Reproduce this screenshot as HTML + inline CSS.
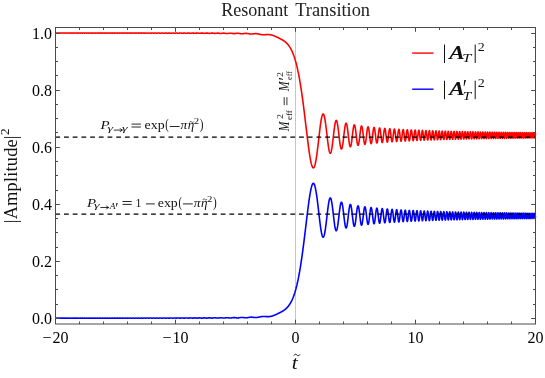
<!DOCTYPE html>
<html><head><meta charset="utf-8"><title>Resonant Transition</title>
<style>
html,body{margin:0;padding:0;background:#fff;}
body{width:545px;height:378px;overflow:hidden;}
svg{display:block;font-family:"Liberation Serif",serif;will-change:transform;transform:translateZ(0);}
.tk line{stroke:#4a4a4a;stroke-width:1;}
.lab text{font-size:16px;fill:#000;}
</style></head><body>
<svg width="545" height="378" viewBox="0 0 545 378">
<rect width="545" height="378" fill="#fff"/>
<line x1="295.5" y1="27.5" x2="295.5" y2="324.0" stroke="#a8a8a8" stroke-width="0.65"/>
<path d="M55.50,33.00 L55.98,33.05 L56.46,33.10 L56.94,33.05 L57.42,33.00 L57.90,33.06 L58.38,33.10 L58.86,33.05 L59.34,33.00 L59.82,33.06 L60.30,33.10 L60.78,33.05 L61.26,33.00 L61.74,33.06 L62.22,33.11 L62.70,33.05 L63.18,33.00 L63.66,33.06 L64.14,33.11 L64.62,33.05 L65.10,33.00 L65.58,33.05 L66.06,33.11 L66.54,33.06 L67.02,33.00 L67.50,33.04 L67.98,33.11 L68.46,33.07 L68.94,33.01 L69.42,33.03 L69.90,33.10 L70.38,33.09 L70.86,33.01 L71.34,33.02 L71.82,33.09 L72.30,33.10 L72.78,33.03 L73.26,33.01 L73.74,33.08 L74.22,33.11 L74.70,33.05 L75.18,33.00 L75.66,33.06 L76.14,33.11 L76.62,33.07 L77.10,33.00 L77.58,33.03 L78.06,33.10 L78.54,33.09 L79.02,33.02 L79.50,33.01 L79.98,33.08 L80.46,33.11 L80.94,33.05 L81.42,33.00 L81.90,33.05 L82.38,33.11 L82.86,33.08 L83.34,33.01 L83.82,33.02 L84.30,33.10 L84.78,33.11 L85.26,33.04 L85.74,33.00 L86.22,33.06 L86.70,33.12 L87.18,33.08 L87.66,33.01 L88.14,33.02 L88.62,33.10 L89.10,33.11 L89.58,33.04 L90.06,33.00 L90.54,33.06 L91.02,33.12 L91.50,33.09 L91.98,33.02 L92.46,33.01 L92.94,33.09 L93.42,33.12 L93.90,33.06 L94.38,33.00 L94.86,33.03 L95.34,33.11 L95.82,33.11 L96.30,33.04 L96.78,33.00 L97.26,33.06 L97.74,33.12 L98.22,33.10 L98.70,33.02 L99.18,33.01 L99.66,33.08 L100.14,33.13 L100.62,33.09 L101.10,33.01 L101.58,33.01 L102.06,33.09 L102.54,33.13 L103.02,33.08 L103.50,33.01 L103.98,33.02 L104.46,33.10 L104.94,33.13 L105.42,33.07 L105.90,33.01 L106.38,33.02 L106.86,33.10 L107.34,33.13 L107.82,33.07 L108.30,33.01 L108.78,33.02 L109.26,33.10 L109.74,33.13 L110.22,33.08 L110.70,33.01 L111.18,33.02 L111.66,33.10 L112.14,33.14 L112.62,33.09 L113.10,33.02 L113.58,33.01 L114.06,33.09 L114.54,33.14 L115.02,33.11 L115.50,33.03 L115.98,33.01 L116.46,33.07 L116.94,33.13 L117.42,33.12 L117.90,33.05 L118.38,33.00 L118.86,33.04 L119.34,33.12 L119.82,33.14 L120.30,33.08 L120.78,33.01 L121.26,33.02 L121.74,33.10 L122.22,33.15 L122.70,33.11 L123.18,33.03 L123.66,33.01 L124.14,33.06 L124.62,33.13 L125.10,33.14 L125.58,33.07 L126.06,33.01 L126.54,33.02 L127.02,33.10 L127.50,33.15 L127.98,33.12 L128.46,33.04 L128.94,33.01 L129.42,33.05 L129.90,33.13 L130.38,33.15 L130.86,33.10 L131.34,33.02 L131.82,33.01 L132.30,33.07 L132.78,33.15 L133.26,33.15 L133.74,33.08 L134.22,33.02 L134.70,33.02 L135.18,33.09 L135.66,33.15 L136.14,33.15 L136.62,33.07 L137.10,33.01 L137.58,33.02 L138.06,33.10 L138.54,33.16 L139.02,33.15 L139.50,33.07 L139.98,33.01 L140.46,33.02 L140.94,33.10 L141.42,33.16 L141.90,33.15 L142.38,33.08 L142.86,33.02 L143.34,33.02 L143.82,33.09 L144.30,33.16 L144.78,33.17 L145.26,33.10 L145.74,33.03 L146.22,33.01 L146.70,33.07 L147.18,33.15 L147.66,33.18 L148.14,33.13 L148.62,33.05 L149.10,33.01 L149.58,33.04 L150.06,33.12 L150.54,33.18 L151.02,33.17 L151.50,33.09 L151.98,33.03 L152.46,33.02 L152.94,33.08 L153.42,33.16 L153.90,33.19 L154.38,33.15 L154.86,33.07 L155.34,33.02 L155.82,33.03 L156.30,33.11 L156.78,33.18 L157.26,33.19 L157.74,33.13 L158.22,33.05 L158.70,33.01 L159.18,33.05 L159.66,33.12 L160.14,33.19 L160.62,33.19 L161.10,33.13 L161.58,33.05 L162.06,33.02 L162.54,33.05 L163.02,33.13 L163.50,33.19 L163.98,33.20 L164.46,33.14 L164.94,33.06 L165.42,33.02 L165.90,33.04 L166.38,33.11 L166.86,33.19 L167.34,33.21 L167.82,33.17 L168.30,33.09 L168.78,33.03 L169.26,33.03 L169.74,33.09 L170.22,33.17 L170.70,33.22 L171.18,33.20 L171.66,33.14 L172.14,33.06 L172.62,33.02 L173.10,33.05 L173.58,33.13 L174.06,33.20 L174.54,33.23 L175.02,33.20 L175.50,33.12 L175.98,33.05 L176.46,33.03 L176.94,33.07 L177.42,33.14 L177.90,33.22 L178.38,33.24 L178.86,33.20 L179.34,33.12 L179.82,33.05 L180.30,33.03 L180.78,33.07 L181.26,33.14 L181.74,33.22 L182.22,33.25 L182.70,33.22 L183.18,33.15 L183.66,33.08 L184.14,33.04 L184.62,33.05 L185.10,33.12 L185.58,33.20 L186.06,33.26 L186.54,33.26 L187.02,33.20 L187.50,33.12 L187.98,33.06 L188.46,33.04 L188.94,33.08 L189.42,33.15 L189.90,33.23 L190.38,33.28 L190.86,33.26 L191.34,33.21 L191.82,33.13 L192.30,33.06 L192.78,33.05 L193.26,33.08 L193.74,33.16 L194.22,33.24 L194.70,33.29 L195.18,33.29 L195.66,33.24 L196.14,33.16 L196.62,33.09 L197.10,33.05 L197.58,33.07 L198.06,33.14 L198.54,33.22 L199.02,33.29 L199.50,33.32 L199.98,33.29 L200.46,33.23 L200.94,33.15 L201.42,33.09 L201.90,33.06 L202.38,33.09 L202.86,33.16 L203.34,33.24 L203.82,33.31 L204.30,33.34 L204.78,33.32 L205.26,33.26 L205.74,33.18 L206.22,33.11 L206.70,33.08 L207.18,33.09 L207.66,33.14 L208.14,33.22 L208.62,33.30 L209.10,33.36 L209.58,33.37 L210.06,33.33 L210.54,33.27 L211.02,33.19 L211.50,33.12 L211.98,33.09 L212.46,33.10 L212.94,33.16 L213.42,33.24 L213.90,33.32 L214.38,33.38 L214.86,33.41 L215.34,33.39 L215.82,33.33 L216.30,33.26 L216.78,33.18 L217.26,33.13 L217.74,33.11 L218.22,33.14 L218.70,33.20 L219.18,33.28 L219.66,33.36 L220.14,33.43 L220.62,33.45 L221.10,33.44 L221.58,33.39 L222.06,33.32 L222.54,33.24 L223.02,33.18 L223.50,33.14 L223.98,33.15 L224.46,33.19 L224.94,33.26 L225.42,33.34 L225.90,33.42 L226.38,33.49 L226.86,33.52 L227.34,33.51 L227.82,33.47 L228.30,33.41 L228.78,33.33 L229.26,33.26 L229.74,33.21 L230.22,33.18 L230.70,33.20 L231.18,33.24 L231.66,33.32 L232.14,33.40 L232.62,33.49 L233.10,33.56 L233.58,33.60 L234.06,33.61 L234.54,33.59 L235.02,33.54 L235.50,33.48 L235.62,33.46 L235.74,33.44 L235.86,33.42 L235.98,33.40 L236.10,33.38 L236.22,33.36 L236.34,33.35 L236.46,33.33 L236.58,33.32 L236.70,33.30 L236.82,33.29 L236.94,33.28 L237.06,33.27 L237.18,33.26 L237.30,33.26 L237.42,33.25 L237.54,33.25 L237.66,33.25 L237.78,33.26 L237.90,33.26 L238.02,33.27 L238.14,33.27 L238.26,33.29 L238.38,33.30 L238.50,33.31 L238.62,33.33 L238.74,33.34 L238.86,33.36 L238.98,33.38 L239.10,33.40 L239.22,33.42 L239.34,33.44 L239.46,33.46 L239.58,33.49 L239.70,33.51 L239.82,33.53 L239.94,33.55 L240.06,33.58 L240.18,33.60 L240.30,33.62 L240.42,33.64 L240.54,33.66 L240.66,33.67 L240.78,33.69 L240.90,33.71 L241.02,33.72 L241.14,33.73 L241.26,33.74 L241.38,33.75 L241.50,33.76 L241.62,33.76 L241.74,33.76 L241.86,33.76 L241.98,33.76 L242.10,33.76 L242.22,33.76 L242.34,33.75 L242.46,33.74 L242.58,33.73 L242.70,33.72 L242.82,33.71 L242.94,33.70 L243.06,33.68 L243.18,33.67 L243.30,33.65 L243.42,33.64 L243.54,33.62 L243.66,33.60 L243.78,33.58 L243.90,33.57 L244.02,33.55 L244.14,33.53 L244.26,33.51 L244.38,33.49 L244.50,33.48 L244.62,33.46 L244.74,33.45 L244.86,33.44 L244.98,33.42 L245.10,33.41 L245.22,33.40 L245.34,33.39 L245.46,33.39 L245.58,33.38 L245.70,33.38 L245.82,33.38 L245.94,33.38 L246.06,33.38 L246.18,33.38 L246.30,33.39 L246.42,33.39 L246.54,33.40 L246.66,33.41 L246.78,33.42 L246.90,33.44 L247.02,33.45 L247.14,33.47 L247.26,33.48 L247.38,33.50 L247.50,33.52 L247.62,33.54 L247.74,33.56 L247.86,33.59 L247.98,33.61 L248.10,33.63 L248.22,33.65 L248.34,33.68 L248.46,33.70 L248.58,33.73 L248.70,33.75 L248.82,33.77 L248.94,33.80 L249.06,33.82 L249.18,33.84 L249.30,33.86 L249.42,33.88 L249.54,33.90 L249.66,33.92 L249.78,33.94 L249.90,33.95 L250.02,33.97 L250.14,33.98 L250.26,34.00 L250.38,34.01 L250.50,34.02 L250.62,34.02 L250.74,34.03 L250.86,34.03 L250.98,34.04 L251.10,34.04 L251.22,34.04 L251.34,34.04 L251.46,34.04 L251.58,34.03 L251.70,34.03 L251.82,34.02 L251.94,34.01 L252.06,34.00 L252.18,33.99 L252.30,33.98 L252.42,33.97 L252.54,33.96 L252.66,33.95 L252.78,33.93 L252.90,33.92 L253.02,33.90 L253.14,33.89 L253.26,33.87 L253.38,33.85 L253.50,33.84 L253.62,33.82 L253.74,33.81 L253.86,33.79 L253.98,33.78 L254.10,33.76 L254.22,33.75 L254.34,33.73 L254.46,33.72 L254.58,33.71 L254.70,33.70 L254.82,33.69 L254.94,33.68 L255.06,33.67 L255.18,33.66 L255.30,33.66 L255.42,33.65 L255.54,33.65 L255.66,33.65 L255.78,33.65 L255.90,33.65 L256.02,33.65 L256.14,33.65 L256.26,33.66 L256.38,33.67 L256.50,33.67 L256.62,33.68 L256.74,33.69 L256.86,33.71 L256.98,33.72 L257.10,33.73 L257.22,33.75 L257.34,33.77 L257.46,33.78 L257.58,33.80 L257.70,33.82 L257.82,33.85 L257.94,33.87 L258.06,33.89 L258.18,33.91 L258.30,33.94 L258.42,33.96 L258.54,33.99 L258.66,34.02 L258.78,34.04 L258.90,34.07 L259.02,34.10 L259.14,34.13 L259.26,34.15 L259.38,34.18 L259.50,34.21 L259.62,34.24 L259.74,34.26 L259.86,34.29 L259.98,34.32 L260.10,34.34 L260.22,34.37 L260.34,34.39 L260.46,34.42 L260.58,34.44 L260.70,34.47 L260.82,34.49 L260.94,34.51 L261.06,34.53 L261.18,34.55 L261.30,34.57 L261.42,34.59 L261.54,34.61 L261.66,34.62 L261.78,34.64 L261.90,34.65 L262.02,34.67 L262.14,34.68 L262.26,34.69 L262.38,34.70 L262.50,34.71 L262.62,34.72 L262.74,34.73 L262.86,34.73 L262.98,34.74 L263.10,34.74 L263.22,34.74 L263.34,34.75 L263.46,34.75 L263.58,34.75 L263.70,34.75 L263.82,34.75 L263.94,34.74 L264.06,34.74 L264.18,34.74 L264.30,34.73 L264.42,34.73 L264.54,34.72 L264.66,34.72 L264.78,34.71 L264.90,34.70 L265.02,34.70 L265.14,34.69 L265.26,34.68 L265.38,34.67 L265.50,34.66 L265.62,34.66 L265.74,34.65 L265.86,34.64 L265.98,34.63 L266.10,34.62 L266.22,34.62 L266.34,34.61 L266.46,34.60 L266.58,34.59 L266.70,34.59 L266.82,34.58 L266.94,34.57 L267.06,34.57 L267.18,34.56 L267.30,34.56 L267.42,34.56 L267.54,34.55 L267.66,34.55 L267.78,34.55 L267.90,34.55 L268.02,34.55 L268.14,34.55 L268.26,34.55 L268.38,34.55 L268.50,34.56 L268.62,34.56 L268.74,34.57 L268.86,34.58 L268.98,34.58 L269.10,34.59 L269.22,34.60 L269.34,34.61 L269.46,34.62 L269.58,34.64 L269.70,34.65 L269.82,34.67 L269.94,34.68 L270.06,34.70 L270.18,34.72 L270.30,34.74 L270.42,34.76 L270.54,34.78 L270.66,34.81 L270.78,34.83 L270.90,34.85 L271.02,34.88 L271.14,34.91 L271.26,34.94 L271.38,34.97 L271.50,35.00 L271.62,35.03 L271.74,35.06 L271.86,35.09 L271.98,35.13 L272.10,35.16 L272.22,35.20 L272.34,35.24 L272.46,35.27 L272.58,35.31 L272.70,35.35 L272.82,35.39 L272.94,35.43 L273.06,35.48 L273.18,35.52 L273.30,35.56 L273.42,35.61 L273.54,35.65 L273.66,35.70 L273.78,35.74 L273.90,35.79 L274.02,35.84 L274.14,35.89 L274.26,35.93 L274.38,35.98 L274.50,36.03 L274.62,36.08 L274.74,36.13 L274.86,36.18 L274.98,36.23 L275.10,36.29 L275.22,36.34 L275.34,36.39 L275.46,36.44 L275.58,36.50 L275.70,36.55 L275.82,36.60 L275.94,36.66 L276.06,36.71 L276.18,36.77 L276.30,36.82 L276.42,36.88 L276.54,36.93 L276.66,36.99 L276.78,37.04 L276.90,37.10 L277.02,37.16 L277.14,37.21 L277.26,37.27 L277.38,37.33 L277.50,37.38 L277.62,37.44 L277.74,37.50 L277.86,37.55 L277.98,37.61 L278.10,37.67 L278.22,37.73 L278.34,37.79 L278.46,37.84 L278.58,37.90 L278.70,37.96 L278.82,38.02 L278.94,38.08 L279.06,38.14 L279.18,38.20 L279.30,38.26 L279.42,38.32 L279.54,38.38 L279.66,38.44 L279.78,38.50 L279.90,38.56 L280.02,38.62 L280.14,38.68 L280.26,38.74 L280.38,38.81 L280.50,38.87 L280.62,38.93 L280.74,39.00 L280.86,39.06 L280.98,39.12 L281.10,39.19 L281.22,39.25 L281.34,39.32 L281.46,39.38 L281.58,39.45 L281.70,39.52 L281.82,39.59 L281.94,39.65 L282.06,39.72 L282.18,39.79 L282.30,39.86 L282.42,39.93 L282.54,40.01 L282.66,40.08 L282.78,40.15 L282.90,40.23 L283.02,40.30 L283.14,40.38 L283.26,40.45 L283.38,40.53 L283.50,40.61 L283.57,40.66 L283.64,40.70 L283.72,40.75 L283.79,40.80 L283.86,40.85 L283.93,40.90 L284.00,40.95 L284.08,41.00 L284.15,41.05 L284.22,41.10 L284.29,41.15 L284.36,41.21 L284.44,41.26 L284.51,41.31 L284.58,41.37 L284.65,41.42 L284.72,41.47 L284.80,41.53 L284.87,41.58 L284.94,41.64 L285.01,41.70 L285.08,41.75 L285.16,41.81 L285.23,41.87 L285.30,41.93 L285.37,41.99 L285.44,42.05 L285.52,42.11 L285.59,42.17 L285.66,42.23 L285.73,42.29 L285.80,42.35 L285.88,42.41 L285.95,42.48 L286.02,42.54 L286.09,42.61 L286.16,42.67 L286.24,42.74 L286.31,42.81 L286.38,42.87 L286.45,42.94 L286.52,43.01 L286.60,43.08 L286.67,43.15 L286.74,43.22 L286.81,43.30 L286.88,43.37 L286.96,43.44 L287.03,43.52 L287.10,43.59 L287.17,43.67 L287.24,43.74 L287.32,43.82 L287.39,43.90 L287.46,43.98 L287.53,44.06 L287.60,44.14 L287.68,44.22 L287.75,44.30 L287.82,44.38 L287.89,44.47 L287.96,44.55 L288.04,44.64 L288.11,44.73 L288.18,44.81 L288.25,44.90 L288.32,44.99 L288.40,45.08 L288.47,45.17 L288.54,45.27 L288.61,45.36 L288.68,45.45 L288.76,45.55 L288.83,45.65 L288.90,45.74 L288.97,45.84 L289.04,45.94 L289.12,46.04 L289.19,46.14 L289.26,46.25 L289.33,46.35 L289.40,46.46 L289.48,46.56 L289.55,46.67 L289.62,46.78 L289.69,46.89 L289.76,47.00 L289.84,47.11 L289.91,47.23 L289.98,47.34 L290.05,47.46 L290.12,47.57 L290.20,47.69 L290.27,47.81 L290.34,47.93 L290.41,48.05 L290.48,48.18 L290.56,48.30 L290.63,48.43 L290.70,48.56 L290.77,48.69 L290.84,48.82 L290.92,48.95 L290.99,49.08 L291.06,49.21 L291.13,49.35 L291.20,49.49 L291.28,49.63 L291.35,49.77 L291.42,49.91 L291.49,50.05 L291.56,50.20 L291.64,50.34 L291.71,50.49 L291.78,50.64 L291.85,50.79 L291.92,50.94 L292.00,51.10 L292.07,51.26 L292.14,51.41 L292.21,51.57 L292.28,51.73 L292.36,51.90 L292.43,52.06 L292.50,52.23 L292.57,52.39 L292.64,52.56 L292.72,52.73 L292.79,52.91 L292.86,53.08 L292.93,53.26 L293.00,53.44 L293.08,53.62 L293.15,53.80 L293.22,53.98 L293.29,54.17 L293.36,54.36 L293.44,54.55 L293.51,54.74 L293.58,54.93 L293.65,55.13 L293.72,55.32 L293.80,55.52 L293.87,55.72 L293.94,55.93 L294.01,56.13 L294.08,56.34 L294.16,56.55 L294.23,56.76 L294.30,56.98 L294.37,57.19 L294.44,57.41 L294.52,57.63 L294.59,57.85 L294.66,58.08 L294.73,58.30 L294.80,58.53 L294.88,58.76 L294.95,59.00 L295.02,59.23 L295.09,59.47 L295.16,59.71 L295.24,59.95 L295.31,60.20 L295.38,60.45 L295.45,60.70 L295.52,60.95 L295.60,61.20 L295.67,61.46 L295.74,61.72 L295.81,61.98 L295.88,62.24 L295.96,62.51 L296.03,62.78 L296.10,63.05 L296.17,63.33 L296.24,63.60 L296.32,63.88 L296.39,64.16 L296.46,64.45 L296.53,64.74 L296.60,65.02 L296.68,65.32 L296.75,65.61 L296.82,65.91 L296.89,66.21 L296.96,66.51 L297.04,66.82 L297.11,67.13 L297.18,67.44 L297.25,67.75 L297.32,68.07 L297.40,68.39 L297.47,68.71 L297.54,69.03 L297.61,69.36 L297.68,69.69 L297.76,70.02 L297.83,70.36 L297.90,70.70 L297.97,71.04 L298.04,71.39 L298.12,71.73 L298.19,72.08 L298.26,72.44 L298.33,72.79 L298.40,73.15 L298.48,73.51 L298.55,73.88 L298.62,74.25 L298.69,74.62 L298.76,74.99 L298.84,75.37 L298.91,75.75 L298.98,76.13 L299.05,76.52 L299.12,76.90 L299.20,77.30 L299.27,77.69 L299.34,78.09 L299.41,78.49 L299.48,78.89 L299.56,79.30 L299.63,79.71 L299.70,80.12 L299.77,80.54 L299.84,80.96 L299.92,81.38 L299.99,81.80 L300.06,82.23 L300.13,82.66 L300.20,83.10 L300.28,83.53 L300.35,83.97 L300.42,84.42 L300.49,84.86 L300.56,85.31 L300.64,85.77 L300.71,86.22 L300.78,86.68 L300.85,87.14 L300.92,87.60 L301.00,88.07 L301.07,88.54 L301.14,89.01 L301.21,89.49 L301.28,89.97 L301.36,90.45 L301.43,90.94 L301.50,91.42 L301.57,91.92 L301.64,92.41 L301.72,92.91 L301.79,93.41 L301.86,93.91 L301.93,94.41 L302.00,94.92 L302.08,95.43 L302.15,95.94 L302.22,96.46 L302.29,96.98 L302.36,97.50 L302.44,98.02 L302.51,98.55 L302.58,99.08 L302.65,99.61 L302.72,100.15 L302.80,100.68 L302.87,101.22 L302.94,101.77 L303.01,102.31 L303.08,102.86 L303.16,103.41 L303.23,103.96 L303.30,104.51 L303.37,105.07 L303.44,105.63 L303.52,106.19 L303.59,106.75 L303.66,107.31 L303.73,107.88 L303.80,108.45 L303.88,109.02 L303.95,109.59 L304.02,110.17 L304.09,110.74 L304.16,111.32 L304.24,111.90 L304.31,112.48 L304.38,113.07 L304.45,113.65 L304.52,114.24 L304.60,114.83 L304.67,115.42 L304.74,116.01 L304.81,116.60 L304.88,117.19 L304.96,117.78 L305.03,118.38 L305.10,118.98 L305.17,119.57 L305.24,120.17 L305.32,120.77 L305.39,121.37 L305.46,121.97 L305.53,122.57 L305.60,123.17 L305.68,123.77 L305.75,124.37 L305.82,124.98 L305.89,125.58 L305.96,126.18 L306.04,126.78 L306.11,127.38 L306.18,127.99 L306.25,128.59 L306.32,129.19 L306.40,129.79 L306.47,130.39 L306.54,130.99 L306.61,131.59 L306.68,132.19 L306.76,132.79 L306.83,133.38 L306.90,133.98 L306.97,134.57 L307.04,135.16 L307.12,135.76 L307.19,136.35 L307.26,136.93 L307.33,137.52 L307.40,138.10 L307.48,138.69 L307.55,139.27 L307.62,139.85 L307.69,140.42 L307.76,141.00 L307.84,141.57 L307.91,142.13 L307.98,142.70 L308.05,143.26 L308.12,143.82 L308.20,144.38 L308.27,144.93 L308.34,145.48 L308.41,146.03 L308.48,146.57 L308.56,147.11 L308.63,147.64 L308.70,148.17 L308.77,148.70 L308.84,149.22 L308.92,149.74 L308.99,150.26 L309.06,150.76 L309.13,151.27 L309.20,151.77 L309.28,152.26 L309.35,152.75 L309.42,153.23 L309.49,153.71 L309.56,154.18 L309.64,154.65 L309.71,155.11 L309.78,155.57 L309.85,156.02 L309.92,156.46 L310.00,156.89 L310.07,157.32 L310.14,157.75 L310.21,158.16 L310.28,158.57 L310.36,158.97 L310.43,159.37 L310.50,159.76 L310.57,160.14 L310.64,160.51 L310.72,160.87 L310.79,161.23 L310.86,161.58 L310.93,161.92 L311.00,162.25 L311.08,162.58 L311.15,162.89 L311.22,163.20 L311.29,163.50 L311.36,163.78 L311.44,164.06 L311.51,164.34 L311.58,164.60 L311.65,164.85 L311.72,165.09 L311.80,165.33 L311.87,165.55 L311.94,165.76 L312.01,165.97 L312.08,166.16 L312.16,166.35 L312.23,166.52 L312.30,166.68 L312.37,166.84 L312.44,166.98 L312.52,167.11 L312.59,167.23 L312.66,167.34 L312.73,167.44 L312.80,167.53 L312.88,167.61 L312.95,167.68 L313.02,167.73 L313.09,167.78 L313.16,167.81 L313.24,167.83 L313.31,167.84 L313.38,167.84 L313.45,167.83 L313.52,167.81 L313.60,167.77 L313.67,167.73 L313.74,167.67 L313.81,167.60 L313.88,167.52 L313.96,167.42 L314.03,167.32 L314.10,167.20 L314.17,167.07 L314.24,166.93 L314.32,166.78 L314.39,166.62 L314.46,166.44 L314.53,166.26 L314.60,166.06 L314.68,165.85 L314.75,165.63 L314.82,165.39 L314.89,165.15 L314.96,164.89 L315.04,164.63 L315.11,164.35 L315.18,164.06 L315.25,163.76 L315.32,163.45 L315.40,163.12 L315.47,162.79 L315.54,162.44 L315.61,162.09 L315.68,161.72 L315.76,161.35 L315.83,160.96 L315.90,160.57 L315.97,160.16 L316.04,159.74 L316.12,159.32 L316.19,158.88 L316.26,158.44 L316.33,157.98 L316.40,157.52 L316.48,157.05 L316.55,156.57 L316.62,156.08 L316.69,155.58 L316.76,155.07 L316.84,154.56 L316.91,154.04 L316.98,153.51 L317.05,152.97 L317.12,152.43 L317.20,151.88 L317.27,151.32 L317.34,150.76 L317.41,150.19 L317.48,149.61 L317.56,149.03 L317.63,148.45 L317.70,147.86 L317.77,147.26 L317.84,146.66 L317.92,146.06 L317.99,145.45 L318.06,144.84 L318.13,144.22 L318.20,143.61 L318.28,142.99 L318.35,142.37 L318.42,141.74 L318.49,141.12 L318.56,140.49 L318.64,139.86 L318.71,139.24 L318.78,138.61 L318.85,137.98 L318.92,137.35 L319.00,136.73 L319.07,136.10 L319.14,135.48 L319.21,134.86 L319.28,134.24 L319.36,133.62 L319.43,133.01 L319.50,132.40 L319.57,131.79 L319.64,131.19 L319.72,130.59 L319.79,130.00 L319.86,129.41 L319.93,128.83 L320.00,128.26 L320.08,127.69 L320.15,127.13 L320.22,126.57 L320.29,126.02 L320.36,125.48 L320.44,124.95 L320.51,124.43 L320.58,123.92 L320.65,123.41 L320.72,122.92 L320.80,122.43 L320.87,121.96 L320.94,121.49 L321.01,121.04 L321.08,120.60 L321.16,120.17 L321.23,119.75 L321.30,119.35 L321.37,118.96 L321.44,118.58 L321.52,118.21 L321.59,117.86 L321.66,117.52 L321.73,117.19 L321.80,116.88 L321.88,116.59 L321.95,116.31 L322.02,116.04 L322.09,115.79 L322.16,115.56 L322.24,115.34 L322.31,115.13 L322.38,114.95 L322.45,114.78 L322.52,114.62 L322.60,114.48 L322.67,114.36 L322.74,114.26 L322.81,114.17 L322.88,114.10 L322.96,114.05 L323.03,114.02 L323.10,114.00 L323.17,114.00 L323.24,114.02 L323.32,114.05 L323.39,114.10 L323.46,114.17 L323.53,114.26 L323.60,114.37 L323.68,114.49 L323.75,114.63 L323.82,114.79 L323.89,114.96 L323.96,115.15 L324.04,115.36 L324.11,115.59 L324.18,115.83 L324.25,116.09 L324.32,116.37 L324.40,116.66 L324.47,116.97 L324.54,117.29 L324.61,117.63 L324.68,117.98 L324.76,118.35 L324.83,118.74 L324.90,119.13 L324.97,119.55 L325.04,119.97 L325.12,120.41 L325.19,120.87 L325.26,121.33 L325.33,121.81 L325.40,122.30 L325.48,122.80 L325.55,123.31 L325.62,123.83 L325.69,124.36 L325.76,124.91 L325.84,125.46 L325.91,126.02 L325.98,126.59 L326.05,127.16 L326.12,127.74 L326.20,128.33 L326.27,128.93 L326.34,129.53 L326.41,130.13 L326.48,130.74 L326.56,131.36 L326.63,131.97 L326.70,132.59 L326.77,133.21 L326.84,133.83 L326.92,134.45 L326.99,135.08 L327.06,135.70 L327.13,136.32 L327.20,136.94 L327.28,137.55 L327.35,138.16 L327.42,138.77 L327.49,139.38 L327.56,139.98 L327.64,140.57 L327.71,141.16 L327.78,141.74 L327.85,142.31 L327.92,142.87 L328.00,143.43 L328.07,143.97 L328.14,144.51 L328.21,145.03 L328.28,145.54 L328.36,146.05 L328.43,146.53 L328.50,147.01 L328.57,147.47 L328.64,147.92 L328.72,148.35 L328.79,148.77 L328.86,149.17 L328.93,149.56 L329.00,149.92 L329.08,150.28 L329.15,150.61 L329.22,150.93 L329.29,151.22 L329.36,151.50 L329.44,151.76 L329.51,152.00 L329.58,152.22 L329.65,152.42 L329.72,152.60 L329.80,152.76 L329.87,152.90 L329.94,153.01 L330.01,153.11 L330.08,153.18 L330.16,153.23 L330.23,153.26 L330.30,153.27 L330.37,153.26 L330.44,153.22 L330.52,153.17 L330.59,153.09 L330.66,152.99 L330.73,152.86 L330.80,152.72 L330.88,152.55 L330.95,152.36 L331.02,152.16 L331.09,151.93 L331.16,151.68 L331.24,151.41 L331.31,151.12 L331.38,150.80 L331.45,150.48 L331.52,150.13 L331.60,149.76 L331.67,149.37 L331.74,148.97 L331.81,148.55 L331.88,148.11 L331.96,147.66 L332.03,147.19 L332.10,146.71 L332.17,146.21 L332.24,145.70 L332.32,145.17 L332.39,144.64 L332.46,144.09 L332.53,143.53 L332.60,142.96 L332.68,142.38 L332.75,141.80 L332.82,141.20 L332.89,140.60 L332.96,139.99 L333.04,139.38 L333.11,138.76 L333.18,138.14 L333.25,137.52 L333.32,136.90 L333.40,136.27 L333.47,135.65 L333.54,135.02 L333.61,134.40 L333.68,133.78 L333.76,133.17 L333.83,132.56 L333.90,131.95 L333.97,131.35 L334.04,130.76 L334.12,130.18 L334.19,129.61 L334.26,129.05 L334.33,128.49 L334.40,127.95 L334.48,127.43 L334.55,126.91 L334.62,126.41 L334.69,125.93 L334.76,125.46 L334.84,125.01 L334.91,124.58 L334.98,124.16 L335.05,123.76 L335.12,123.39 L335.20,123.03 L335.27,122.69 L335.34,122.38 L335.41,122.08 L335.48,121.81 L335.56,121.57 L335.63,121.34 L335.70,121.14 L335.77,120.96 L335.84,120.81 L335.92,120.68 L335.99,120.58 L336.06,120.50 L336.13,120.45 L336.20,120.42 L336.28,120.42 L336.35,120.44 L336.42,120.49 L336.49,120.57 L336.56,120.67 L336.64,120.80 L336.71,120.95 L336.78,121.12 L336.85,121.33 L336.92,121.55 L337.00,121.80 L337.07,122.07 L337.14,122.37 L337.21,122.69 L337.28,123.03 L337.36,123.39 L337.43,123.78 L337.50,124.18 L337.57,124.61 L337.64,125.05 L337.72,125.51 L337.79,125.99 L337.86,126.48 L337.93,126.99 L338.00,127.52 L338.08,128.06 L338.15,128.61 L338.22,129.18 L338.29,129.75 L338.36,130.34 L338.44,130.93 L338.51,131.53 L338.58,132.14 L338.65,132.75 L338.72,133.37 L338.80,133.99 L338.87,134.61 L338.94,135.24 L339.01,135.86 L339.08,136.48 L339.16,137.10 L339.23,137.71 L339.30,138.32 L339.37,138.92 L339.44,139.52 L339.52,140.11 L339.59,140.68 L339.66,141.25 L339.73,141.80 L339.80,142.34 L339.88,142.87 L339.95,143.38 L340.02,143.87 L340.09,144.35 L340.16,144.80 L340.24,145.24 L340.31,145.66 L340.38,146.06 L340.45,146.43 L340.52,146.78 L340.60,147.11 L340.67,147.41 L340.74,147.69 L340.81,147.94 L340.88,148.17 L340.96,148.37 L341.03,148.54 L341.10,148.69 L341.17,148.80 L341.24,148.89 L341.32,148.95 L341.39,148.98 L341.46,148.99 L341.53,148.96 L341.60,148.90 L341.68,148.82 L341.75,148.71 L341.82,148.57 L341.89,148.40 L341.96,148.20 L342.04,147.98 L342.11,147.73 L342.18,147.45 L342.25,147.15 L342.32,146.82 L342.40,146.46 L342.47,146.09 L342.54,145.69 L342.61,145.26 L342.68,144.82 L342.76,144.36 L342.83,143.87 L342.90,143.37 L342.97,142.85 L343.04,142.32 L343.12,141.77 L343.19,141.21 L343.26,140.63 L343.33,140.04 L343.40,139.45 L343.48,138.84 L343.55,138.23 L343.62,137.62 L343.69,137.00 L343.76,136.37 L343.84,135.75 L343.91,135.12 L343.98,134.50 L344.05,133.88 L344.12,133.27 L344.20,132.66 L344.27,132.06 L344.34,131.47 L344.41,130.89 L344.48,130.32 L344.56,129.76 L344.63,129.22 L344.70,128.70 L344.77,128.19 L344.84,127.70 L344.92,127.23 L344.99,126.78 L345.06,126.36 L345.13,125.96 L345.20,125.58 L345.28,125.22 L345.35,124.90 L345.42,124.60 L345.49,124.33 L345.56,124.08 L345.64,123.87 L345.71,123.68 L345.78,123.53 L345.85,123.41 L345.92,123.31 L346.00,123.25 L346.07,123.22 L346.14,123.23 L346.21,123.26 L346.28,123.32 L346.36,123.42 L346.43,123.55 L346.50,123.71 L346.57,123.90 L346.64,124.12 L346.72,124.37 L346.79,124.65 L346.86,124.96 L346.93,125.29 L347.00,125.65 L347.08,126.04 L347.15,126.45 L347.22,126.89 L347.29,127.35 L347.36,127.83 L347.44,128.33 L347.51,128.85 L347.58,129.38 L347.65,129.94 L347.72,130.50 L347.80,131.08 L347.87,131.67 L347.94,132.27 L348.01,132.88 L348.08,133.50 L348.16,134.12 L348.23,134.74 L348.30,135.36 L348.37,135.98 L348.44,136.60 L348.52,137.22 L348.59,137.83 L348.66,138.44 L348.73,139.03 L348.80,139.61 L348.88,140.18 L348.95,140.74 L349.02,141.28 L349.09,141.80 L349.16,142.31 L349.24,142.79 L349.31,143.25 L349.38,143.69 L349.45,144.10 L349.52,144.49 L349.60,144.85 L349.67,145.18 L349.74,145.48 L349.81,145.75 L349.88,146.00 L349.96,146.21 L350.03,146.38 L350.10,146.53 L350.17,146.64 L350.24,146.72 L350.32,146.76 L350.39,146.77 L350.46,146.74 L350.53,146.68 L350.60,146.59 L350.68,146.46 L350.75,146.30 L350.82,146.10 L350.89,145.88 L350.96,145.62 L351.04,145.33 L351.11,145.01 L351.18,144.66 L351.25,144.28 L351.32,143.87 L351.40,143.44 L351.47,142.98 L351.54,142.50 L351.61,142.00 L351.68,141.48 L351.76,140.94 L351.83,140.39 L351.90,139.81 L351.97,139.23 L352.04,138.63 L352.12,138.03 L352.19,137.41 L352.26,136.79 L352.33,136.17 L352.40,135.55 L352.48,134.92 L352.55,134.30 L352.62,133.69 L352.69,133.08 L352.76,132.47 L352.84,131.88 L352.91,131.30 L352.98,130.74 L353.05,130.19 L353.12,129.66 L353.20,129.15 L353.27,128.66 L353.34,128.20 L353.41,127.76 L353.48,127.35 L353.56,126.96 L353.63,126.61 L353.70,126.28 L353.77,125.99 L353.84,125.72 L353.92,125.50 L353.99,125.30 L354.06,125.15 L354.13,125.02 L354.20,124.94 L354.28,124.89 L354.35,124.87 L354.42,124.90 L354.49,124.96 L354.56,125.06 L354.64,125.19 L354.71,125.36 L354.78,125.56 L354.85,125.80 L354.92,126.08 L355.00,126.38 L355.07,126.72 L355.14,127.09 L355.21,127.49 L355.28,127.91 L355.36,128.37 L355.43,128.84 L355.50,129.34 L355.57,129.87 L355.64,130.41 L355.72,130.97 L355.79,131.54 L355.86,132.13 L355.93,132.73 L356.00,133.34 L356.08,133.96 L356.15,134.58 L356.22,135.20 L356.29,135.83 L356.36,136.45 L356.44,137.06 L356.51,137.67 L356.58,138.27 L356.65,138.86 L356.72,139.44 L356.80,140.00 L356.87,140.54 L356.94,141.06 L357.01,141.56 L357.08,142.04 L357.16,142.49 L357.23,142.91 L357.30,143.31 L357.37,143.67 L357.44,144.00 L357.52,144.30 L357.59,144.56 L357.66,144.79 L357.73,144.98 L357.80,145.13 L357.88,145.24 L357.95,145.32 L358.02,145.36 L358.09,145.36 L358.16,145.32 L358.24,145.24 L358.31,145.12 L358.38,144.96 L358.45,144.77 L358.52,144.53 L358.60,144.27 L358.67,143.96 L358.74,143.63 L358.81,143.26 L358.88,142.86 L358.96,142.43 L359.03,141.97 L359.10,141.48 L359.17,140.97 L359.24,140.44 L359.32,139.89 L359.39,139.33 L359.46,138.74 L359.53,138.15 L359.60,137.54 L359.68,136.92 L359.75,136.30 L359.82,135.68 L359.89,135.06 L359.96,134.43 L360.04,133.82 L360.11,133.21 L360.18,132.61 L360.25,132.02 L360.32,131.45 L360.40,130.89 L360.47,130.36 L360.54,129.84 L360.61,129.36 L360.68,128.89 L360.76,128.46 L360.83,128.05 L360.90,127.68 L360.97,127.34 L361.04,127.04 L361.12,126.77 L361.19,126.54 L361.26,126.35 L361.33,126.20 L361.40,126.09 L361.48,126.02 L361.55,125.99 L361.62,126.01 L361.69,126.06 L361.76,126.16 L361.84,126.29 L361.91,126.47 L361.98,126.68 L362.05,126.94 L362.12,127.23 L362.20,127.55 L362.27,127.92 L362.34,128.31 L362.41,128.74 L362.48,129.20 L362.56,129.68 L362.63,130.19 L362.70,130.72 L362.77,131.27 L362.84,131.84 L362.92,132.43 L362.99,133.03 L363.06,133.64 L363.13,134.26 L363.20,134.88 L363.28,135.50 L363.35,136.13 L363.42,136.74 L363.49,137.36 L363.56,137.96 L363.64,138.55 L363.71,139.12 L363.78,139.68 L363.85,140.21 L363.92,140.73 L364.00,141.21 L364.07,141.67 L364.14,142.10 L364.21,142.50 L364.28,142.86 L364.36,143.19 L364.43,143.48 L364.50,143.73 L364.57,143.94 L364.64,144.11 L364.72,144.24 L364.79,144.32 L364.86,144.37 L364.93,144.36 L365.00,144.32 L365.08,144.23 L365.15,144.10 L365.22,143.93 L365.29,143.71 L365.36,143.46 L365.44,143.16 L365.51,142.83 L365.58,142.46 L365.65,142.06 L365.72,141.63 L365.80,141.16 L365.87,140.67 L365.94,140.15 L366.01,139.60 L366.08,139.04 L366.16,138.46 L366.23,137.87 L366.30,137.26 L366.37,136.64 L366.44,136.02 L366.52,135.40 L366.59,134.77 L366.66,134.16 L366.73,133.54 L366.80,132.94 L366.88,132.35 L366.95,131.78 L367.02,131.22 L367.09,130.69 L367.16,130.18 L367.24,129.70 L367.31,129.25 L367.38,128.84 L367.45,128.45 L367.52,128.10 L367.60,127.80 L367.67,127.53 L367.74,127.30 L367.81,127.12 L367.88,126.97 L367.96,126.88 L368.03,126.83 L368.10,126.82 L368.17,126.86 L368.24,126.94 L368.32,127.07 L368.39,127.24 L368.46,127.46 L368.53,127.72 L368.60,128.02 L368.68,128.36 L368.75,128.73 L368.82,129.14 L368.89,129.59 L368.96,130.07 L369.04,130.57 L369.11,131.10 L369.18,131.65 L369.25,132.22 L369.32,132.81 L369.40,133.42 L369.47,134.03 L369.54,134.65 L369.61,135.27 L369.68,135.90 L369.76,136.52 L369.83,137.13 L369.90,137.73 L369.97,138.32 L370.04,138.89 L370.12,139.45 L370.19,139.98 L370.26,140.48 L370.33,140.95 L370.40,141.40 L370.48,141.80 L370.55,142.18 L370.62,142.51 L370.69,142.80 L370.76,143.05 L370.84,143.26 L370.91,143.42 L370.98,143.53 L371.05,143.60 L371.12,143.62 L371.20,143.60 L371.27,143.52 L371.34,143.40 L371.41,143.24 L371.48,143.03 L371.56,142.77 L371.63,142.47 L371.70,142.13 L371.77,141.76 L371.84,141.34 L371.92,140.89 L371.99,140.41 L372.06,139.90 L372.13,139.37 L372.20,138.81 L372.28,138.23 L372.35,137.64 L372.42,137.03 L372.49,136.41 L372.56,135.79 L372.64,135.16 L372.71,134.54 L372.78,133.93 L372.85,133.32 L372.92,132.72 L373.00,132.15 L373.07,131.59 L373.14,131.05 L373.21,130.55 L373.28,130.07 L373.36,129.62 L373.43,129.21 L373.50,128.84 L373.57,128.51 L373.64,128.22 L373.72,127.98 L373.79,127.78 L373.86,127.62 L373.93,127.52 L374.00,127.46 L374.08,127.46 L374.15,127.50 L374.22,127.59 L374.29,127.73 L374.36,127.92 L374.44,128.15 L374.51,128.43 L374.58,128.75 L374.65,129.11 L374.72,129.51 L374.80,129.95 L374.87,130.42 L374.94,130.93 L375.01,131.46 L375.08,132.01 L375.16,132.59 L375.23,133.18 L375.30,133.79 L375.37,134.41 L375.44,135.03 L375.52,135.65 L375.59,136.27 L375.66,136.89 L375.73,137.49 L375.80,138.08 L375.88,138.66 L375.95,139.21 L376.02,139.73 L376.09,140.23 L376.16,140.70 L376.24,141.13 L376.31,141.52 L376.38,141.87 L376.45,142.18 L376.52,142.44 L376.60,142.66 L376.67,142.83 L376.74,142.95 L376.81,143.01 L376.88,143.03 L376.96,143.00 L377.03,142.92 L377.10,142.78 L377.17,142.60 L377.24,142.37 L377.32,142.09 L377.39,141.77 L377.46,141.41 L377.53,141.00 L377.60,140.56 L377.68,140.08 L377.75,139.57 L377.82,139.04 L377.89,138.47 L377.96,137.89 L378.04,137.29 L378.11,136.68 L378.18,136.06 L378.25,135.44 L378.32,134.82 L378.40,134.20 L378.47,133.59 L378.54,132.99 L378.61,132.41 L378.68,131.85 L378.76,131.32 L378.83,130.81 L378.90,130.34 L378.97,129.90 L379.04,129.50 L379.12,129.14 L379.19,128.83 L379.26,128.56 L379.33,128.34 L379.40,128.17 L379.48,128.05 L379.55,127.98 L379.62,127.97 L379.69,128.01 L379.76,128.10 L379.84,128.24 L379.91,128.43 L379.98,128.67 L380.05,128.96 L380.12,129.30 L380.20,129.68 L380.27,130.10 L380.34,130.55 L380.41,131.04 L380.48,131.57 L380.56,132.12 L380.63,132.69 L380.70,133.28 L380.77,133.89 L380.84,134.50 L380.92,135.13 L380.99,135.75 L381.06,136.37 L381.13,136.98 L381.20,137.58 L381.28,138.17 L381.35,138.73 L381.42,139.27 L381.49,139.77 L381.56,140.25 L381.64,140.69 L381.71,141.09 L381.78,141.44 L381.85,141.75 L381.92,142.01 L382.00,142.22 L382.07,142.38 L382.14,142.49 L382.21,142.55 L382.28,142.55 L382.36,142.49 L382.43,142.38 L382.50,142.22 L382.57,142.01 L382.64,141.75 L382.72,141.44 L382.79,141.08 L382.86,140.68 L382.93,140.24 L383.00,139.76 L383.08,139.25 L383.15,138.71 L383.22,138.14 L383.29,137.55 L383.36,136.95 L383.44,136.34 L383.51,135.71 L383.58,135.09 L383.65,134.47 L383.72,133.86 L383.80,133.25 L383.87,132.67 L383.94,132.11 L384.01,131.57 L384.08,131.06 L384.16,130.59 L384.23,130.16 L384.30,129.76 L384.37,129.42 L384.44,129.11 L384.52,128.86 L384.59,128.66 L384.66,128.52 L384.73,128.43 L384.80,128.39 L384.88,128.41 L384.95,128.49 L385.02,128.62 L385.09,128.80 L385.16,129.04 L385.24,129.33 L385.31,129.66 L385.38,130.05 L385.45,130.47 L385.52,130.94 L385.60,131.44 L385.67,131.97 L385.74,132.53 L385.81,133.11 L385.88,133.71 L385.96,134.32 L386.03,134.94 L386.10,135.57 L386.17,136.19 L386.24,136.80 L386.32,137.41 L386.39,137.99 L386.46,138.55 L386.53,139.09 L386.60,139.59 L386.68,140.06 L386.75,140.49 L386.82,140.88 L386.89,141.22 L386.96,141.51 L387.04,141.75 L387.11,141.93 L387.18,142.06 L387.25,142.14 L387.32,142.15 L387.40,142.11 L387.47,142.01 L387.54,141.86 L387.61,141.65 L387.68,141.39 L387.76,141.07 L387.83,140.71 L387.90,140.30 L387.97,139.85 L388.04,139.37 L388.12,138.85 L388.19,138.29 L388.26,137.72 L388.33,137.12 L388.40,136.51 L388.48,135.89 L388.55,135.27 L388.62,134.65 L388.69,134.03 L388.76,133.43 L388.84,132.84 L388.91,132.28 L388.98,131.74 L389.05,131.24 L389.12,130.77 L389.20,130.34 L389.27,129.96 L389.34,129.62 L389.41,129.34 L389.48,129.11 L389.56,128.93 L389.63,128.82 L389.70,128.76 L389.77,128.76 L389.84,128.81 L389.92,128.93 L389.99,129.10 L390.06,129.33 L390.13,129.61 L390.20,129.95 L390.28,130.33 L390.35,130.76 L390.42,131.23 L390.49,131.73 L390.56,132.27 L390.64,132.84 L390.71,133.43 L390.78,134.03 L390.85,134.65 L390.92,135.27 L391.00,135.89 L391.07,136.51 L391.14,137.12 L391.21,137.71 L391.28,138.28 L391.36,138.82 L391.43,139.33 L391.50,139.80 L391.57,140.23 L391.64,140.62 L391.72,140.95 L391.79,141.24 L391.86,141.47 L391.93,141.64 L392.00,141.75 L392.08,141.81 L392.15,141.80 L392.22,141.73 L392.29,141.61 L392.36,141.42 L392.44,141.18 L392.51,140.89 L392.58,140.54 L392.65,140.14 L392.72,139.70 L392.80,139.22 L392.87,138.70 L392.94,138.15 L393.01,137.58 L393.08,136.98 L393.16,136.37 L393.23,135.75 L393.30,135.12 L393.37,134.50 L393.44,133.89 L393.52,133.29 L393.59,132.72 L393.66,132.16 L393.73,131.64 L393.80,131.16 L393.88,130.72 L393.95,130.32 L394.02,129.97 L394.09,129.67 L394.16,129.43 L394.24,129.25 L394.31,129.13 L394.38,129.06 L394.45,129.06 L394.52,129.13 L394.60,129.25 L394.67,129.43 L394.74,129.67 L394.81,129.97 L394.88,130.32 L394.96,130.72 L395.03,131.16 L395.10,131.65 L395.17,132.17 L395.24,132.72 L395.32,133.30 L395.39,133.90 L395.46,134.52 L395.53,135.14 L395.60,135.76 L395.68,136.38 L395.75,136.99 L395.82,137.58 L395.89,138.15 L395.96,138.69 L396.04,139.20 L396.11,139.66 L396.18,140.09 L396.25,140.46 L396.32,140.78 L396.40,141.05 L396.47,141.26 L396.54,141.41 L396.61,141.49 L396.68,141.52 L396.76,141.48 L396.83,141.37 L396.90,141.21 L396.97,140.99 L397.04,140.70 L397.12,140.37 L397.19,139.98 L397.26,139.54 L397.33,139.06 L397.40,138.54 L397.48,137.99 L397.55,137.42 L397.62,136.82 L397.69,136.20 L397.76,135.58 L397.84,134.96 L397.91,134.34 L397.98,133.73 L398.05,133.14 L398.12,132.57 L398.20,132.04 L398.27,131.54 L398.34,131.07 L398.41,130.66 L398.48,130.29 L398.56,129.98 L398.63,129.73 L398.70,129.53 L398.77,129.40 L398.84,129.33 L398.92,129.33 L398.99,129.39 L399.06,129.52 L399.13,129.70 L399.20,129.95 L399.28,130.26 L399.35,130.62 L399.42,131.03 L399.49,131.49 L399.56,131.99 L399.64,132.52 L399.71,133.09 L399.78,133.68 L399.85,134.28 L399.92,134.90 L400.00,135.53 L400.07,136.15 L400.14,136.76 L400.21,137.36 L400.28,137.93 L400.36,138.48 L400.43,138.99 L400.50,139.46 L400.57,139.88 L400.64,140.26 L400.72,140.58 L400.79,140.84 L400.86,141.04 L400.93,141.18 L401.00,141.25 L401.08,141.25 L401.15,141.20 L401.22,141.07 L401.29,140.88 L401.36,140.63 L401.44,140.32 L401.51,139.96 L401.58,139.54 L401.65,139.08 L401.72,138.57 L401.80,138.03 L401.87,137.46 L401.94,136.87 L402.01,136.26 L402.08,135.64 L402.16,135.01 L402.23,134.39 L402.30,133.78 L402.37,133.19 L402.44,132.63 L402.52,132.10 L402.59,131.60 L402.66,131.15 L402.73,130.75 L402.80,130.39 L402.88,130.10 L402.95,129.87 L403.02,129.70 L403.09,129.60 L403.16,129.56 L403.24,129.59 L403.31,129.69 L403.38,129.85 L403.45,130.08 L403.52,130.37 L403.60,130.71 L403.67,131.11 L403.74,131.56 L403.81,132.06 L403.88,132.59 L403.96,133.15 L404.03,133.74 L404.10,134.35 L404.17,134.97 L404.24,135.60 L404.32,136.22 L404.39,136.83 L404.46,137.42 L404.53,137.98 L404.60,138.52 L404.68,139.02 L404.75,139.47 L404.82,139.87 L404.89,140.22 L404.96,140.51 L405.04,140.74 L405.11,140.91 L405.18,141.00 L405.25,141.03 L405.32,140.99 L405.40,140.88 L405.47,140.71 L405.54,140.47 L405.61,140.17 L405.68,139.81 L405.76,139.39 L405.83,138.93 L405.90,138.43 L405.97,137.88 L406.04,137.31 L406.12,136.71 L406.19,136.10 L406.26,135.48 L406.33,134.85 L406.40,134.24 L406.48,133.63 L406.55,133.05 L406.62,132.50 L406.69,131.98 L406.76,131.51 L406.84,131.08 L406.91,130.71 L406.98,130.39 L407.05,130.14 L407.12,129.95 L407.20,129.83 L407.27,129.77 L407.34,129.79 L407.41,129.88 L407.48,130.03 L407.56,130.25 L407.63,130.54 L407.70,130.88 L407.77,131.29 L407.84,131.74 L407.92,132.24 L407.99,132.77 L408.06,133.34 L408.13,133.94 L408.20,134.55 L408.28,135.17 L408.35,135.79 L408.42,136.41 L408.49,137.01 L408.56,137.60 L408.64,138.15 L408.71,138.67 L408.78,139.14 L408.85,139.56 L408.92,139.93 L409.00,140.24 L409.07,140.49 L409.14,140.67 L409.21,140.79 L409.28,140.83 L409.36,140.80 L409.43,140.70 L409.50,140.53 L409.57,140.29 L409.64,139.99 L409.72,139.63 L409.79,139.21 L409.86,138.75 L409.93,138.23 L410.00,137.69 L410.08,137.11 L410.15,136.51 L410.22,135.89 L410.29,135.27 L410.36,134.64 L410.44,134.03 L410.51,133.44 L410.58,132.87 L410.65,132.33 L410.72,131.84 L410.80,131.39 L410.87,130.99 L410.94,130.66 L411.01,130.38 L411.08,130.17 L411.16,130.03 L411.23,129.97 L411.30,129.97 L411.37,130.05 L411.44,130.20 L411.52,130.41 L411.59,130.69 L411.66,131.04 L411.73,131.44 L411.80,131.90 L411.88,132.40 L411.95,132.94 L412.02,133.52 L412.09,134.12 L412.16,134.73 L412.24,135.35 L412.31,135.98 L412.38,136.59 L412.45,137.19 L412.52,137.76 L412.60,138.29 L412.67,138.79 L412.74,139.24 L412.81,139.63 L412.88,139.97 L412.96,140.24 L413.03,140.45 L413.10,140.58 L413.17,140.64 L413.24,140.63 L413.32,140.54 L413.39,140.38 L413.46,140.16 L413.53,139.86 L413.60,139.50 L413.68,139.09 L413.75,138.62 L413.82,138.11 L413.89,137.56 L413.96,136.98 L414.04,136.37 L414.11,135.75 L414.18,135.13 L414.25,134.51 L414.32,133.90 L414.40,133.31 L414.47,132.76 L414.54,132.23 L414.61,131.76 L414.68,131.33 L414.76,130.96 L414.83,130.66 L414.90,130.42 L414.97,130.25 L415.04,130.15 L415.12,130.13 L415.19,130.18 L415.26,130.31 L415.33,130.51 L415.40,130.78 L415.48,131.11 L415.55,131.51 L415.62,131.96 L415.69,132.45 L415.76,132.99 L415.84,133.57 L415.91,134.17 L415.98,134.78 L416.05,135.40 L416.12,136.03 L416.20,136.64 L416.27,137.23 L416.34,137.79 L416.41,138.32 L416.48,138.81 L416.56,139.24 L416.63,139.62 L416.70,139.93 L416.77,140.18 L416.84,140.35 L416.92,140.45 L416.99,140.48 L417.06,140.43 L417.13,140.30 L417.20,140.10 L417.28,139.83 L417.35,139.50 L417.42,139.10 L417.49,138.65 L417.56,138.15 L417.64,137.60 L417.71,137.03 L417.78,136.43 L417.85,135.81 L417.92,135.18 L418.00,134.56 L418.07,133.96 L418.14,133.37 L418.21,132.81 L418.28,132.29 L418.36,131.82 L418.43,131.40 L418.50,131.04 L418.57,130.75 L418.64,130.52 L418.72,130.37 L418.79,130.29 L418.86,130.30 L418.93,130.37 L419.00,130.53 L419.08,130.75 L419.15,131.05 L419.22,131.41 L419.29,131.84 L419.36,132.31 L419.44,132.83 L419.51,133.39 L419.58,133.98 L419.65,134.59 L419.72,135.22 L419.80,135.84 L419.87,136.45 L419.94,137.05 L420.01,137.62 L420.08,138.16 L420.16,138.65 L420.23,139.09 L420.30,139.47 L420.37,139.79 L420.44,140.03 L420.52,140.21 L420.59,140.30 L420.66,140.32 L420.73,140.26 L420.80,140.13 L420.88,139.92 L420.95,139.64 L421.02,139.29 L421.09,138.88 L421.16,138.41 L421.24,137.89 L421.31,137.34 L421.38,136.75 L421.45,136.14 L421.52,135.52 L421.60,134.90 L421.67,134.28 L421.74,133.68 L421.81,133.11 L421.88,132.58 L421.96,132.08 L422.03,131.64 L422.10,131.26 L422.17,130.95 L422.24,130.71 L422.32,130.54 L422.39,130.45 L422.46,130.43 L422.53,130.50 L422.60,130.64 L422.68,130.86 L422.75,131.15 L422.82,131.51 L422.89,131.94 L422.96,132.41 L423.04,132.94 L423.11,133.50 L423.18,134.09 L423.25,134.70 L423.32,135.33 L423.40,135.95 L423.47,136.56 L423.54,137.15 L423.61,137.71 L423.68,138.24 L423.76,138.71 L423.83,139.13 L423.90,139.49 L423.97,139.77 L424.04,139.99 L424.12,140.13 L424.19,140.18 L424.26,140.16 L424.33,140.06 L424.40,139.88 L424.48,139.62 L424.55,139.30 L424.62,138.91 L424.69,138.45 L424.76,137.95 L424.84,137.40 L424.91,136.82 L424.98,136.22 L425.05,135.60 L425.12,134.98 L425.20,134.36 L425.27,133.76 L425.34,133.18 L425.41,132.65 L425.48,132.16 L425.56,131.72 L425.63,131.34 L425.70,131.04 L425.77,130.80 L425.84,130.64 L425.92,130.57 L425.99,130.57 L426.06,130.66 L426.13,130.82 L426.20,131.06 L426.28,131.38 L426.35,131.76 L426.42,132.20 L426.49,132.70 L426.56,133.24 L426.64,133.82 L426.71,134.42 L426.78,135.04 L426.85,135.66 L426.92,136.28 L427.00,136.88 L427.07,137.46 L427.14,137.99 L427.21,138.48 L427.28,138.92 L427.36,139.29 L427.43,139.60 L427.50,139.83 L427.57,139.98 L427.64,140.05 L427.72,140.04 L427.79,139.95 L427.86,139.77 L427.93,139.52 L428.00,139.20 L428.08,138.81 L428.15,138.35 L428.22,137.85 L428.29,137.30 L428.36,136.72 L428.44,136.11 L428.51,135.49 L428.58,134.86 L428.65,134.25 L428.72,133.65 L428.80,133.09 L428.87,132.57 L428.94,132.09 L429.01,131.67 L429.08,131.32 L429.16,131.04 L429.23,130.84 L429.30,130.72 L429.37,130.68 L429.44,130.72 L429.52,130.85 L429.59,131.06 L429.66,131.34 L429.73,131.70 L429.80,132.12 L429.88,132.60 L429.95,133.13 L430.02,133.69 L430.09,134.29 L430.16,134.91 L430.24,135.53 L430.31,136.15 L430.38,136.76 L430.45,137.33 L430.52,137.88 L430.60,138.37 L430.67,138.81 L430.74,139.19 L430.81,139.49 L430.88,139.72 L430.96,139.87 L431.03,139.94 L431.10,139.92 L431.17,139.81 L431.24,139.63 L431.32,139.37 L431.39,139.03 L431.46,138.62 L431.53,138.15 L431.60,137.64 L431.68,137.08 L431.75,136.48 L431.82,135.87 L431.89,135.25 L431.96,134.63 L432.04,134.02 L432.11,133.44 L432.18,132.89 L432.25,132.39 L432.32,131.94 L432.40,131.56 L432.47,131.25 L432.54,131.02 L432.61,130.86 L432.68,130.80 L432.76,130.81 L432.83,130.91 L432.90,131.10 L432.97,131.37 L433.04,131.71 L433.12,132.11 L433.19,132.58 L433.26,133.10 L433.33,133.67 L433.40,134.26 L433.48,134.88 L433.55,135.50 L433.62,136.12 L433.69,136.73 L433.76,137.30 L433.84,137.84 L433.91,138.33 L433.98,138.77 L434.05,139.14 L434.12,139.43 L434.20,139.65 L434.27,139.78 L434.34,139.83 L434.41,139.79 L434.48,139.67 L434.56,139.46 L434.63,139.17 L434.70,138.81 L434.77,138.38 L434.84,137.89 L434.92,137.35 L434.99,136.78 L435.06,136.18 L435.13,135.56 L435.20,134.93 L435.28,134.32 L435.35,133.72 L435.42,133.16 L435.49,132.64 L435.56,132.17 L435.64,131.77 L435.71,131.43 L435.78,131.17 L435.85,131.00 L435.92,130.91 L436.00,130.91 L436.07,130.99 L436.14,131.16 L436.21,131.41 L436.28,131.74 L436.36,132.14 L436.43,132.61 L436.50,133.13 L436.57,133.69 L436.64,134.28 L436.72,134.90 L436.79,135.52 L436.86,136.14 L436.93,136.74 L437.00,137.32 L437.08,137.85 L437.15,138.34 L437.22,138.76 L437.29,139.11 L437.36,139.39 L437.44,139.59 L437.51,139.70 L437.58,139.72 L437.65,139.66 L437.72,139.51 L437.80,139.27 L437.87,138.95 L437.94,138.56 L438.01,138.11 L438.08,137.60 L438.16,137.04 L438.23,136.45 L438.30,135.84 L438.37,135.22 L438.44,134.59 L438.52,133.99 L438.59,133.41 L438.66,132.88 L438.73,132.39 L438.80,131.96 L438.88,131.61 L438.95,131.33 L439.02,131.13 L439.09,131.02 L439.16,131.00 L439.24,131.06 L439.31,131.22 L439.38,131.46 L439.45,131.78 L439.52,132.18 L439.60,132.64 L439.67,133.15 L439.74,133.71 L439.81,134.30 L439.88,134.92 L439.96,135.54 L440.03,136.16 L440.10,136.76 L440.17,137.33 L440.24,137.86 L440.32,138.34 L440.39,138.75 L440.46,139.09 L440.53,139.35 L440.60,139.53 L440.68,139.62 L440.75,139.62 L440.82,139.53 L440.89,139.35 L440.96,139.08 L441.04,138.74 L441.11,138.32 L441.18,137.84 L441.25,137.31 L441.32,136.74 L441.40,136.14 L441.47,135.52 L441.54,134.89 L441.61,134.28 L441.68,133.69 L441.76,133.13 L441.83,132.63 L441.90,132.18 L441.97,131.79 L442.04,131.49 L442.12,131.26 L442.19,131.13 L442.26,131.08 L442.33,131.13 L442.40,131.27 L442.48,131.49 L442.55,131.80 L442.62,132.18 L442.69,132.63 L442.76,133.14 L442.84,133.70 L442.91,134.29 L442.98,134.91 L443.05,135.53 L443.12,136.15 L443.20,136.75 L443.27,137.32 L443.34,137.85 L443.41,138.32 L443.48,138.72 L443.56,139.05 L443.63,139.30 L443.70,139.47 L443.77,139.54 L443.84,139.52 L443.92,139.40 L443.99,139.20 L444.06,138.91 L444.13,138.55 L444.20,138.11 L444.28,137.61 L444.35,137.07 L444.42,136.48 L444.49,135.87 L444.56,135.25 L444.64,134.63 L444.71,134.02 L444.78,133.45 L444.85,132.91 L444.92,132.44 L445.00,132.02 L445.07,131.68 L445.14,131.42 L445.21,131.25 L445.28,131.18 L445.36,131.19 L445.43,131.30 L445.50,131.50 L445.57,131.78 L445.64,132.14 L445.72,132.58 L445.79,133.08 L445.86,133.62 L445.93,134.21 L446.00,134.82 L446.08,135.45 L446.15,136.07 L446.22,136.67 L446.29,137.24 L446.36,137.77 L446.44,138.24 L446.51,138.65 L446.58,138.98 L446.65,139.23 L446.72,139.39 L446.80,139.45 L446.87,139.43 L446.94,139.30 L447.01,139.09 L447.08,138.79 L447.16,138.41 L447.23,137.97 L447.30,137.46 L447.37,136.90 L447.44,136.31 L447.52,135.69 L447.59,135.07 L447.66,134.45 L447.73,133.85 L447.80,133.29 L447.88,132.78 L447.95,132.32 L448.02,131.94 L448.09,131.63 L448.16,131.41 L448.24,131.29 L448.31,131.25 L448.38,131.31 L448.45,131.47 L448.52,131.71 L448.60,132.04 L448.67,132.45 L448.74,132.92 L448.81,133.46 L448.88,134.03 L448.96,134.63 L449.03,135.26 L449.10,135.88 L449.17,136.49 L449.24,137.07 L449.32,137.61 L449.39,138.10 L449.46,138.52 L449.53,138.86 L449.60,139.12 L449.68,139.29 L449.75,139.37 L449.82,139.35 L449.89,139.24 L449.96,139.03 L450.04,138.74 L450.11,138.36 L450.18,137.91 L450.25,137.40 L450.32,136.84 L450.40,136.25 L450.47,135.63 L450.54,135.01 L450.61,134.39 L450.68,133.80 L450.76,133.24 L450.83,132.74 L450.90,132.30 L450.97,131.93 L451.04,131.64 L451.12,131.45 L451.19,131.34 L451.26,131.34 L451.33,131.43 L451.40,131.61 L451.48,131.89 L451.55,132.25 L451.62,132.68 L451.69,133.18 L451.76,133.73 L451.84,134.32 L451.91,134.93 L451.98,135.55 L452.05,136.17 L452.12,136.77 L452.20,137.33 L452.27,137.84 L452.34,138.29 L452.41,138.67 L452.48,138.96 L452.56,139.17 L452.63,139.28 L452.70,139.29 L452.77,139.21 L452.84,139.03 L452.92,138.76 L452.99,138.40 L453.06,137.97 L453.13,137.47 L453.20,136.92 L453.28,136.33 L453.35,135.72 L453.42,135.10 L453.49,134.48 L453.56,133.88 L453.64,133.32 L453.71,132.82 L453.78,132.37 L453.85,132.00 L453.92,131.71 L454.00,131.51 L454.07,131.41 L454.14,131.41 L454.21,131.51 L454.28,131.70 L454.36,131.98 L454.43,132.35 L454.50,132.79 L454.57,133.30 L454.64,133.86 L454.72,134.45 L454.79,135.07 L454.86,135.69 L454.93,136.31 L455.00,136.89 L455.08,137.44 L455.15,137.94 L455.22,138.37 L455.29,138.72 L455.36,138.98 L455.44,139.15 L455.51,139.23 L455.58,139.20 L455.65,139.08 L455.72,138.85 L455.80,138.54 L455.87,138.15 L455.94,137.68 L456.01,137.16 L456.08,136.59 L456.16,135.98 L456.23,135.36 L456.30,134.74 L456.37,134.13 L456.44,133.56 L456.52,133.03 L456.59,132.56 L456.66,132.16 L456.73,131.85 L456.80,131.62 L456.88,131.50 L456.95,131.47 L457.02,131.54 L457.09,131.71 L457.16,131.98 L457.24,132.33 L457.31,132.76 L457.38,133.26 L457.45,133.81 L457.52,134.40 L457.60,135.02 L457.67,135.64 L457.74,136.26 L457.81,136.85 L457.88,137.40 L457.96,137.89 L458.03,138.32 L458.10,138.67 L458.17,138.93 L458.24,139.10 L458.32,139.16 L458.39,139.13 L458.46,138.99 L458.53,138.76 L458.60,138.43 L458.68,138.02 L458.75,137.55 L458.82,137.01 L458.89,136.43 L458.96,135.82 L459.04,135.20 L459.11,134.58 L459.18,133.98 L459.25,133.42 L459.32,132.91 L459.40,132.46 L459.47,132.09 L459.54,131.81 L459.61,131.62 L459.68,131.54 L459.76,131.55 L459.83,131.67 L459.90,131.89 L459.97,132.19 L460.04,132.59 L460.12,133.05 L460.19,133.58 L460.26,134.16 L460.33,134.77 L460.40,135.39 L460.48,136.01 L460.55,136.61 L460.62,137.18 L460.69,137.69 L460.76,138.14 L460.84,138.52 L460.91,138.81 L460.98,139.00 L461.05,139.09 L461.12,139.08 L461.20,138.97 L461.27,138.75 L461.34,138.45 L461.41,138.05 L461.48,137.59 L461.56,137.06 L461.63,136.48 L461.70,135.87 L461.77,135.25 L461.84,134.63 L461.92,134.03 L461.99,133.47 L462.06,132.96 L462.13,132.51 L462.20,132.14 L462.28,131.86 L462.35,131.68 L462.42,131.60 L462.49,131.62 L462.56,131.75 L462.64,131.97 L462.71,132.29 L462.78,132.69 L462.85,133.17 L462.92,133.71 L463.00,134.29 L463.07,134.90 L463.14,135.53 L463.21,136.14 L463.28,136.74 L463.36,137.29 L463.43,137.79 L463.50,138.22 L463.57,138.57 L463.64,138.82 L463.72,138.98 L463.79,139.04 L463.86,138.99 L463.93,138.83 L464.00,138.58 L464.08,138.23 L464.15,137.81 L464.22,137.31 L464.29,136.76 L464.36,136.16 L464.44,135.55 L464.51,134.92 L464.58,134.31 L464.65,133.73 L464.72,133.19 L464.80,132.72 L464.87,132.32 L464.94,132.01 L465.01,131.79 L465.08,131.67 L465.16,131.66 L465.23,131.75 L465.30,131.95 L465.37,132.24 L465.44,132.63 L465.52,133.09 L465.59,133.61 L465.66,134.19 L465.73,134.79 L465.80,135.42 L465.88,136.04 L465.95,136.63 L466.02,137.20 L466.09,137.70 L466.16,138.14 L466.24,138.49 L466.31,138.76 L466.38,138.92 L466.45,138.98 L466.52,138.93 L466.60,138.78 L466.67,138.52 L466.74,138.18 L466.81,137.75 L466.88,137.25 L466.96,136.69 L467.03,136.09 L467.10,135.47 L467.17,134.85 L467.24,134.24 L467.32,133.67 L467.39,133.14 L467.46,132.68 L467.53,132.29 L467.60,132.00 L467.68,131.81 L467.75,131.71 L467.82,131.73 L467.89,131.85 L467.96,132.08 L468.04,132.40 L468.11,132.81 L468.18,133.29 L468.25,133.84 L468.32,134.43 L468.40,135.04 L468.47,135.67 L468.54,136.28 L468.61,136.86 L468.68,137.40 L468.76,137.88 L468.83,138.28 L468.90,138.59 L468.97,138.80 L469.04,138.91 L469.12,138.91 L469.19,138.80 L469.26,138.59 L469.33,138.28 L469.40,137.88 L469.48,137.41 L469.55,136.87 L469.62,136.29 L469.69,135.67 L469.76,135.05 L469.84,134.44 L469.91,133.85 L469.98,133.31 L470.05,132.83 L470.12,132.42 L470.20,132.11 L470.27,131.89 L470.34,131.78 L470.41,131.77 L470.48,131.88 L470.56,132.09 L470.63,132.40 L470.70,132.80 L470.77,133.27 L470.84,133.81 L470.92,134.40 L470.99,135.01 L471.06,135.63 L471.13,136.25 L471.20,136.83 L471.28,137.37 L471.35,137.85 L471.42,138.24 L471.49,138.55 L471.56,138.76 L471.64,138.86 L471.71,138.85 L471.78,138.73 L471.85,138.51 L471.92,138.19 L472.00,137.78 L472.07,137.29 L472.14,136.75 L472.21,136.16 L472.28,135.54 L472.36,134.92 L472.43,134.31 L472.50,133.73 L472.57,133.20 L472.64,132.74 L472.72,132.36 L472.79,132.07 L472.86,131.89 L472.93,131.81 L473.00,131.85 L473.08,131.99 L473.15,132.24 L473.22,132.59 L473.29,133.02 L473.36,133.52 L473.44,134.08 L473.51,134.69 L473.58,135.31 L473.65,135.93 L473.72,136.53 L473.80,137.09 L473.87,137.60 L473.94,138.03 L474.01,138.38 L474.08,138.63 L474.16,138.78 L474.23,138.82 L474.30,138.74 L474.37,138.56 L474.44,138.27 L474.52,137.89 L474.59,137.43 L474.66,136.90 L474.73,136.32 L474.80,135.71 L474.88,135.08 L474.95,134.47 L475.02,133.88 L475.09,133.34 L475.16,132.86 L475.24,132.47 L475.31,132.16 L475.38,131.96 L475.45,131.87 L475.52,131.89 L475.60,132.02 L475.67,132.25 L475.74,132.59 L475.81,133.01 L475.88,133.51 L475.96,134.07 L476.03,134.67 L476.10,135.29 L476.17,135.91 L476.24,136.51 L476.32,137.08 L476.39,137.58 L476.46,138.01 L476.53,138.36 L476.60,138.60 L476.68,138.74 L476.75,138.77 L476.82,138.68 L476.89,138.48 L476.96,138.18 L477.04,137.79 L477.11,137.31 L477.18,136.77 L477.25,136.18 L477.32,135.57 L477.40,134.95 L477.47,134.34 L477.54,133.76 L477.61,133.23 L477.68,132.78 L477.76,132.41 L477.83,132.13 L477.90,131.96 L477.97,131.91 L478.04,131.97 L478.12,132.13 L478.19,132.41 L478.26,132.78 L478.33,133.24 L478.40,133.77 L478.48,134.34 L478.55,134.95 L478.62,135.58 L478.69,136.19 L478.76,136.78 L478.84,137.31 L478.91,137.78 L478.98,138.17 L479.05,138.46 L479.12,138.65 L479.20,138.72 L479.27,138.68 L479.34,138.53 L479.41,138.27 L479.48,137.91 L479.56,137.46 L479.63,136.94 L479.70,136.37 L479.77,135.76 L479.84,135.14 L479.92,134.52 L479.99,133.93 L480.06,133.39 L480.13,132.92 L480.20,132.52 L480.28,132.23 L480.35,132.03 L480.42,131.96 L480.49,131.99 L480.56,132.14 L480.64,132.40 L480.71,132.76 L480.78,133.20 L480.85,133.72 L480.92,134.30 L481.00,134.91 L481.07,135.53 L481.14,136.14 L481.21,136.73 L481.28,137.27 L481.36,137.74 L481.43,138.13 L481.50,138.42 L481.57,138.61 L481.64,138.68 L481.72,138.63 L481.79,138.47 L481.86,138.21 L481.93,137.84 L482.00,137.38 L482.08,136.86 L482.15,136.28 L482.22,135.67 L482.29,135.05 L482.36,134.43 L482.44,133.85 L482.51,133.32 L482.58,132.86 L482.65,132.49 L482.72,132.21 L482.80,132.05 L482.87,132.00 L482.94,132.06 L483.01,132.24 L483.08,132.53 L483.16,132.92 L483.23,133.39 L483.30,133.93 L483.37,134.52 L483.44,135.13 L483.52,135.76 L483.59,136.36 L483.66,136.93 L483.73,137.45 L483.80,137.89 L483.88,138.23 L483.95,138.48 L484.02,138.61 L484.09,138.63 L484.16,138.53 L484.24,138.31 L484.31,137.99 L484.38,137.58 L484.45,137.08 L484.52,136.53 L484.60,135.93 L484.67,135.31 L484.74,134.69 L484.81,134.09 L484.88,133.54 L484.96,133.05 L485.03,132.64 L485.10,132.33 L485.17,132.13 L485.24,132.04 L485.32,132.07 L485.39,132.22 L485.46,132.48 L485.53,132.84 L485.60,133.29 L485.68,133.81 L485.75,134.39 L485.82,135.00 L485.89,135.63 L485.96,136.24 L486.04,136.82 L486.11,137.34 L486.18,137.79 L486.25,138.16 L486.32,138.41 L486.40,138.56 L486.47,138.59 L486.54,138.50 L486.61,138.29 L486.68,137.98 L486.76,137.57 L486.83,137.08 L486.90,136.52 L486.97,135.93 L487.04,135.30 L487.12,134.68 L487.19,134.09 L487.26,133.54 L487.33,133.05 L487.40,132.65 L487.48,132.35 L487.55,132.16 L487.62,132.08 L487.69,132.12 L487.76,132.28 L487.84,132.56 L487.91,132.93 L487.98,133.40 L488.05,133.93 L488.12,134.52 L488.20,135.13 L488.27,135.75 L488.34,136.36 L488.41,136.93 L488.48,137.44 L488.56,137.87 L488.63,138.20 L488.70,138.43 L488.77,138.54 L488.84,138.53 L488.92,138.41 L488.99,138.17 L489.06,137.82 L489.13,137.38 L489.20,136.86 L489.28,136.28 L489.35,135.67 L489.42,135.05 L489.49,134.44 L489.56,133.86 L489.64,133.34 L489.71,132.89 L489.78,132.53 L489.85,132.28 L489.92,132.14 L490.00,132.13 L490.07,132.23 L490.14,132.45 L490.21,132.78 L490.28,133.21 L490.36,133.71 L490.43,134.28 L490.50,134.89 L490.57,135.51 L490.64,136.12 L490.72,136.71 L490.79,137.24 L490.86,137.70 L490.93,138.07 L491.00,138.33 L491.08,138.48 L491.15,138.51 L491.22,138.42 L491.29,138.21 L491.36,137.89 L491.44,137.47 L491.51,136.97 L491.58,136.40 L491.65,135.80 L491.72,135.18 L491.80,134.56 L491.87,133.97 L491.94,133.44 L492.01,132.98 L492.08,132.61 L492.16,132.34 L492.23,132.19 L492.30,132.16 L492.37,132.25 L492.44,132.46 L492.52,132.78 L492.59,133.20 L492.66,133.71 L492.73,134.27 L492.80,134.88 L492.88,135.50 L492.95,136.11 L493.02,136.70 L493.09,137.23 L493.16,137.69 L493.24,138.05 L493.31,138.31 L493.38,138.45 L493.45,138.47 L493.52,138.37 L493.60,138.15 L493.67,137.81 L493.74,137.38 L493.81,136.87 L493.88,136.30 L493.96,135.69 L494.03,135.07 L494.10,134.46 L494.17,133.88 L494.24,133.36 L494.32,132.92 L494.39,132.57 L494.46,132.33 L494.53,132.21 L494.60,132.21 L494.68,132.33 L494.75,132.58 L494.82,132.93 L494.89,133.38 L494.96,133.90 L495.04,134.48 L495.11,135.10 L495.18,135.72 L495.25,136.33 L495.32,136.89 L495.40,137.40 L495.47,137.82 L495.54,138.14 L495.61,138.35 L495.68,138.44 L495.76,138.40 L495.83,138.25 L495.90,137.97 L495.97,137.59 L496.04,137.12 L496.12,136.57 L496.19,135.98 L496.26,135.36 L496.33,134.74 L496.40,134.14 L496.48,133.60 L496.55,133.12 L496.62,132.73 L496.69,132.44 L496.76,132.27 L496.84,132.23 L496.91,132.31 L496.98,132.51 L497.05,132.83 L497.12,133.24 L497.20,133.74 L497.27,134.31 L497.34,134.92 L497.41,135.54 L497.48,136.15 L497.56,136.73 L497.63,137.26 L497.70,137.70 L497.77,138.05 L497.84,138.28 L497.92,138.40 L497.99,138.39 L498.06,138.25 L498.13,138.00 L498.20,137.63 L498.28,137.17 L498.35,136.64 L498.42,136.05 L498.49,135.43 L498.56,134.81 L498.64,134.21 L498.71,133.66 L498.78,133.17 L498.85,132.77 L498.92,132.48 L499.00,132.31 L499.07,132.26 L499.14,132.34 L499.21,132.54 L499.28,132.85 L499.36,133.27 L499.43,133.78 L499.50,134.34 L499.57,134.95 L499.64,135.57 L499.72,136.19 L499.79,136.76 L499.86,137.28 L499.93,137.71 L500.00,138.05 L500.08,138.27 L500.15,138.37 L500.22,138.34 L500.29,138.19 L500.36,137.91 L500.44,137.53 L500.51,137.06 L500.58,136.51 L500.65,135.91 L500.72,135.29 L500.80,134.67 L500.87,134.08 L500.94,133.54 L501.01,133.08 L501.08,132.71 L501.16,132.45 L501.23,132.31 L501.30,132.30 L501.37,132.42 L501.44,132.66 L501.52,133.01 L501.59,133.46 L501.66,133.99 L501.73,134.58 L501.80,135.19 L501.88,135.82 L501.95,136.42 L502.02,136.97 L502.09,137.45 L502.16,137.85 L502.24,138.13 L502.31,138.30 L502.38,138.34 L502.45,138.25 L502.52,138.03 L502.60,137.70 L502.67,137.27 L502.74,136.76 L502.81,136.18 L502.88,135.57 L502.96,134.95 L503.03,134.34 L503.10,133.78 L503.17,133.28 L503.24,132.87 L503.32,132.57 L503.39,132.38 L503.46,132.32 L503.53,132.40 L503.60,132.59 L503.68,132.91 L503.75,133.33 L503.82,133.84 L503.89,134.41 L503.96,135.02 L504.04,135.64 L504.11,136.25 L504.18,136.82 L504.25,137.32 L504.32,137.74 L504.40,138.05 L504.47,138.24 L504.54,138.31 L504.61,138.25 L504.68,138.06 L504.76,137.75 L504.83,137.33 L504.90,136.83 L504.97,136.26 L505.04,135.65 L505.12,135.03 L505.19,134.42 L505.26,133.85 L505.33,133.34 L505.40,132.92 L505.48,132.61 L505.55,132.42 L505.62,132.36 L505.69,132.42 L505.76,132.61 L505.84,132.93 L505.91,133.35 L505.98,133.85 L506.05,134.42 L506.12,135.03 L506.20,135.65 L506.27,136.26 L506.34,136.83 L506.41,137.33 L506.48,137.74 L506.56,138.04 L506.63,138.22 L506.70,138.28 L506.77,138.20 L506.84,137.99 L506.92,137.67 L506.99,137.24 L507.06,136.73 L507.13,136.15 L507.20,135.54 L507.28,134.91 L507.35,134.31 L507.42,133.75 L507.49,133.26 L507.56,132.87 L507.64,132.58 L507.71,132.42 L507.78,132.39 L507.85,132.49 L507.92,132.72 L508.00,133.06 L508.07,133.51 L508.14,134.03 L508.21,134.62 L508.28,135.24 L508.36,135.86 L508.43,136.46 L508.50,137.00 L508.57,137.47 L508.64,137.84 L508.72,138.10 L508.79,138.23 L508.86,138.23 L508.93,138.10 L509.00,137.84 L509.08,137.47 L509.15,137.00 L509.22,136.46 L509.29,135.86 L509.36,135.24 L509.44,134.62 L509.51,134.04 L509.58,133.51 L509.65,133.07 L509.72,132.73 L509.80,132.51 L509.87,132.42 L509.94,132.46 L510.01,132.63 L510.08,132.93 L510.16,133.33 L510.23,133.83 L510.30,134.40 L510.37,135.00 L510.44,135.63 L510.52,136.24 L510.59,136.80 L510.66,137.30 L510.73,137.71 L510.80,138.00 L510.88,138.18 L510.95,138.22 L511.02,138.12 L511.09,137.90 L511.16,137.56 L511.24,137.11 L511.31,136.59 L511.38,136.00 L511.45,135.38 L511.52,134.76 L511.60,134.17 L511.67,133.63 L511.74,133.17 L511.81,132.81 L511.88,132.56 L511.96,132.45 L512.03,132.47 L512.10,132.62 L512.17,132.90 L512.24,133.30 L512.32,133.78 L512.39,134.34 L512.46,134.95 L512.53,135.57 L512.60,136.18 L512.68,136.75 L512.75,137.26 L512.82,137.67 L512.89,137.97 L512.96,138.15 L513.04,138.19 L513.11,138.10 L513.18,137.88 L513.25,137.53 L513.32,137.09 L513.40,136.56 L513.47,135.97 L513.54,135.35 L513.61,134.73 L513.68,134.14 L513.76,133.60 L513.83,133.15 L513.90,132.80 L513.97,132.57 L514.04,132.47 L514.12,132.51 L514.19,132.68 L514.26,132.98 L514.33,133.39 L514.40,133.89 L514.48,134.46 L514.55,135.07 L514.62,135.69 L514.69,136.30 L514.76,136.85 L514.84,137.34 L514.91,137.73 L514.98,138.00 L515.05,138.14 L515.12,138.15 L515.20,138.03 L515.27,137.77 L515.34,137.39 L515.41,136.92 L515.48,136.37 L515.56,135.77 L515.63,135.15 L515.70,134.53 L515.77,133.96 L515.84,133.45 L515.92,133.03 L515.99,132.72 L516.06,132.54 L516.13,132.50 L516.20,132.59 L516.28,132.81 L516.35,133.16 L516.42,133.61 L516.49,134.14 L516.56,134.73 L516.64,135.35 L516.71,135.97 L516.78,136.56 L516.85,137.08 L516.92,137.52 L517.00,137.86 L517.07,138.06 L517.14,138.14 L517.21,138.08 L517.28,137.88 L517.36,137.55 L517.43,137.12 L517.50,136.60 L517.57,136.02 L517.64,135.40 L517.72,134.78 L517.79,134.19 L517.86,133.65 L517.93,133.19 L518.00,132.84 L518.08,132.62 L518.15,132.52 L518.22,132.57 L518.29,132.75 L518.36,133.06 L518.44,133.48 L518.51,133.99 L518.58,134.57 L518.65,135.18 L518.72,135.80 L518.80,136.40 L518.87,136.94 L518.94,137.41 L519.01,137.77 L519.08,138.00 L519.16,138.11 L519.23,138.07 L519.30,137.90 L519.37,137.60 L519.44,137.19 L519.52,136.68 L519.59,136.11 L519.66,135.49 L519.73,134.87 L519.80,134.27 L519.88,133.73 L519.95,133.26 L520.02,132.90 L520.09,132.66 L520.16,132.55 L520.24,132.58 L520.31,132.76 L520.38,133.06 L520.45,133.47 L520.52,133.98 L520.60,134.55 L520.67,135.17 L520.74,135.79 L520.81,136.39 L520.88,136.93 L520.96,137.39 L521.03,137.75 L521.10,137.99 L521.17,138.08 L521.24,138.04 L521.32,137.87 L521.39,137.56 L521.46,137.14 L521.53,136.62 L521.60,136.04 L521.68,135.43 L521.75,134.81 L521.82,134.21 L521.89,133.67 L521.96,133.22 L522.04,132.88 L522.11,132.66 L522.18,132.57 L522.25,132.63 L522.32,132.82 L522.40,133.15 L522.47,133.58 L522.54,134.10 L522.61,134.69 L522.68,135.31 L522.76,135.93 L522.83,136.52 L522.90,137.04 L522.97,137.48 L523.04,137.81 L523.12,138.00 L523.19,138.06 L523.26,137.98 L523.33,137.76 L523.40,137.42 L523.48,136.96 L523.55,136.43 L523.62,135.83 L523.69,135.21 L523.76,134.60 L523.84,134.02 L523.91,133.51 L523.98,133.09 L524.05,132.80 L524.12,132.63 L524.20,132.60 L524.27,132.72 L524.34,132.97 L524.41,133.34 L524.48,133.82 L524.56,134.37 L524.63,134.98 L524.70,135.60 L524.77,136.21 L524.84,136.77 L524.92,137.26 L524.99,137.64 L525.06,137.90 L525.13,138.03 L525.20,138.01 L525.28,137.86 L525.35,137.57 L525.42,137.16 L525.49,136.66 L525.56,136.08 L525.64,135.47 L525.71,134.85 L525.78,134.25 L525.85,133.71 L525.92,133.26 L526.00,132.91 L526.07,132.70 L526.14,132.62 L526.21,132.68 L526.28,132.89 L526.36,133.22 L526.43,133.67 L526.50,134.20 L526.57,134.80 L526.64,135.42 L526.72,136.03 L526.79,136.61 L526.86,137.12 L526.93,137.53 L527.00,137.83 L527.08,137.99 L527.15,138.01 L527.22,137.88 L527.29,137.62 L527.36,137.24 L527.44,136.75 L527.51,136.19 L527.58,135.58 L527.65,134.96 L527.72,134.35 L527.80,133.80 L527.87,133.33 L527.94,132.97 L528.01,132.74 L528.08,132.64 L528.16,132.69 L528.23,132.88 L528.30,133.20 L528.37,133.64 L528.44,134.17 L528.52,134.76 L528.59,135.38 L528.66,135.99 L528.73,136.57 L528.80,137.09 L528.88,137.50 L528.95,137.80 L529.02,137.96 L529.09,137.98 L529.16,137.86 L529.24,137.60 L529.31,137.21 L529.38,136.72 L529.45,136.16 L529.52,135.55 L529.60,134.93 L529.67,134.33 L529.74,133.78 L529.81,133.32 L529.88,132.97 L529.96,132.74 L530.03,132.66 L530.10,132.73 L530.17,132.93 L530.24,133.27 L530.32,133.72 L530.39,134.26 L530.46,134.85 L530.53,135.48 L530.60,136.09 L530.68,136.66 L530.75,137.16 L530.82,137.55 L530.89,137.82 L530.96,137.96 L531.04,137.95 L531.11,137.79 L531.18,137.50 L531.25,137.09 L531.32,136.58 L531.40,136.00 L531.47,135.38 L531.54,134.76 L531.61,134.17 L531.68,133.65 L531.76,133.22 L531.83,132.90 L531.90,132.72 L531.97,132.69 L532.04,132.80 L532.12,133.05 L532.19,133.43 L532.26,133.92 L532.33,134.48 L532.40,135.09 L532.48,135.71 L532.55,136.31 L532.62,136.86 L532.69,137.31 L532.76,137.66 L532.84,137.88 L532.91,137.95 L532.98,137.88 L533.05,137.66 L533.12,137.31 L533.20,136.85 L533.27,136.30 L533.34,135.70 L533.41,135.08 L533.48,134.47 L533.56,133.91 L533.63,133.43 L533.70,133.06 L533.77,132.81 L533.84,132.71 L533.92,132.75 L533.99,132.94 L534.06,133.27 L534.13,133.71 L534.20,134.24 L534.28,134.84 L534.35,135.46 L534.42,136.07 L534.49,136.64 L534.56,137.14 L534.64,137.53 L534.71,137.80 L534.78,137.92 L534.85,137.90 L534.92,137.73 L535.00,137.42 L535.07,137.00 L535.14,136.47 L535.21,135.89 L535.28,135.27 L535.36,134.65 L535.43,134.07 L535.50,133.57 L535.50,133.57" fill="none" stroke="#ff0000" stroke-width="1.6" stroke-linejoin="round"/>
<path d="M55.50,318.20 L55.98,318.15 L56.46,318.10 L56.94,318.15 L57.42,318.20 L57.90,318.14 L58.38,318.10 L58.86,318.15 L59.34,318.20 L59.82,318.14 L60.30,318.10 L60.78,318.15 L61.26,318.20 L61.74,318.14 L62.22,318.09 L62.70,318.15 L63.18,318.20 L63.66,318.14 L64.14,318.09 L64.62,318.15 L65.10,318.20 L65.58,318.15 L66.06,318.09 L66.54,318.14 L67.02,318.20 L67.50,318.16 L67.98,318.09 L68.46,318.13 L68.94,318.19 L69.42,318.17 L69.90,318.10 L70.38,318.11 L70.86,318.19 L71.34,318.18 L71.82,318.11 L72.30,318.10 L72.78,318.17 L73.26,318.19 L73.74,318.12 L74.22,318.09 L74.70,318.15 L75.18,318.20 L75.66,318.14 L76.14,318.09 L76.62,318.13 L77.10,318.20 L77.58,318.17 L78.06,318.10 L78.54,318.11 L79.02,318.18 L79.50,318.19 L79.98,318.12 L80.46,318.09 L80.94,318.15 L81.42,318.20 L81.90,318.15 L82.38,318.09 L82.86,318.12 L83.34,318.19 L83.82,318.18 L84.30,318.10 L84.78,318.09 L85.26,318.16 L85.74,318.20 L86.22,318.14 L86.70,318.08 L87.18,318.12 L87.66,318.19 L88.14,318.18 L88.62,318.10 L89.10,318.09 L89.58,318.16 L90.06,318.20 L90.54,318.14 L91.02,318.08 L91.50,318.11 L91.98,318.18 L92.46,318.19 L92.94,318.11 L93.42,318.08 L93.90,318.14 L94.38,318.20 L94.86,318.17 L95.34,318.09 L95.82,318.09 L96.30,318.16 L96.78,318.20 L97.26,318.14 L97.74,318.08 L98.22,318.10 L98.70,318.18 L99.18,318.19 L99.66,318.12 L100.14,318.07 L100.62,318.11 L101.10,318.19 L101.58,318.19 L102.06,318.11 L102.54,318.07 L103.02,318.12 L103.50,318.19 L103.98,318.18 L104.46,318.10 L104.94,318.07 L105.42,318.13 L105.90,318.19 L106.38,318.18 L106.86,318.10 L107.34,318.07 L107.82,318.13 L108.30,318.19 L108.78,318.18 L109.26,318.10 L109.74,318.07 L110.22,318.12 L110.70,318.19 L111.18,318.18 L111.66,318.10 L112.14,318.06 L112.62,318.11 L113.10,318.18 L113.58,318.19 L114.06,318.11 L114.54,318.06 L115.02,318.09 L115.50,318.17 L115.98,318.19 L116.46,318.13 L116.94,318.07 L117.42,318.08 L117.90,318.15 L118.38,318.20 L118.86,318.16 L119.34,318.08 L119.82,318.06 L120.30,318.12 L120.78,318.19 L121.26,318.18 L121.74,318.10 L122.22,318.05 L122.70,318.09 L123.18,318.17 L123.66,318.19 L124.14,318.14 L124.62,318.07 L125.10,318.06 L125.58,318.13 L126.06,318.19 L126.54,318.18 L127.02,318.10 L127.50,318.05 L127.98,318.08 L128.46,318.16 L128.94,318.19 L129.42,318.15 L129.90,318.07 L130.38,318.05 L130.86,318.10 L131.34,318.18 L131.82,318.19 L132.30,318.13 L132.78,318.05 L133.26,318.05 L133.74,318.12 L134.22,318.18 L134.70,318.18 L135.18,318.11 L135.66,318.05 L136.14,318.05 L136.62,318.13 L137.10,318.19 L137.58,318.18 L138.06,318.10 L138.54,318.04 L139.02,318.05 L139.50,318.13 L139.98,318.19 L140.46,318.18 L140.94,318.10 L141.42,318.04 L141.90,318.05 L142.38,318.12 L142.86,318.18 L143.34,318.18 L143.82,318.11 L144.30,318.04 L144.78,318.03 L145.26,318.10 L145.74,318.17 L146.22,318.19 L146.70,318.13 L147.18,318.05 L147.66,318.02 L148.14,318.07 L148.62,318.15 L149.10,318.19 L149.58,318.16 L150.06,318.08 L150.54,318.02 L151.02,318.03 L151.50,318.11 L151.98,318.17 L152.46,318.18 L152.94,318.12 L153.42,318.04 L153.90,318.01 L154.38,318.05 L154.86,318.13 L155.34,318.18 L155.82,318.17 L156.30,318.09 L156.78,318.02 L157.26,318.01 L157.74,318.07 L158.22,318.15 L158.70,318.19 L159.18,318.15 L159.66,318.08 L160.14,318.01 L160.62,318.01 L161.10,318.07 L161.58,318.15 L162.06,318.18 L162.54,318.15 L163.02,318.07 L163.50,318.01 L163.98,318.00 L164.46,318.06 L164.94,318.14 L165.42,318.18 L165.90,318.16 L166.38,318.09 L166.86,318.01 L167.34,317.99 L167.82,318.03 L168.30,318.11 L168.78,318.17 L169.26,318.17 L169.74,318.11 L170.22,318.03 L170.70,317.98 L171.18,318.00 L171.66,318.06 L172.14,318.14 L172.62,318.18 L173.10,318.15 L173.58,318.07 L174.06,318.00 L174.54,317.97 L175.02,318.00 L175.50,318.08 L175.98,318.15 L176.46,318.17 L176.94,318.13 L177.42,318.06 L177.90,317.98 L178.38,317.96 L178.86,318.00 L179.34,318.08 L179.82,318.15 L180.30,318.17 L180.78,318.13 L181.26,318.06 L181.74,317.98 L182.22,317.95 L182.70,317.98 L183.18,318.05 L183.66,318.12 L184.14,318.16 L184.62,318.15 L185.10,318.08 L185.58,318.00 L186.06,317.94 L186.54,317.94 L187.02,318.00 L187.50,318.08 L187.98,318.14 L188.46,318.16 L188.94,318.12 L189.42,318.05 L189.90,317.97 L190.38,317.92 L190.86,317.94 L191.34,317.99 L191.82,318.07 L192.30,318.14 L192.78,318.15 L193.26,318.12 L193.74,318.04 L194.22,317.96 L194.70,317.91 L195.18,317.91 L195.66,317.96 L196.14,318.04 L196.62,318.11 L197.10,318.15 L197.58,318.13 L198.06,318.06 L198.54,317.98 L199.02,317.91 L199.50,317.88 L199.98,317.91 L200.46,317.97 L200.94,318.05 L201.42,318.11 L201.90,318.14 L202.38,318.11 L202.86,318.04 L203.34,317.96 L203.82,317.89 L204.30,317.86 L204.78,317.88 L205.26,317.94 L205.74,318.02 L206.22,318.09 L206.70,318.12 L207.18,318.11 L207.66,318.06 L208.14,317.98 L208.62,317.90 L209.10,317.84 L209.58,317.83 L210.06,317.87 L210.54,317.93 L211.02,318.01 L211.50,318.08 L211.98,318.11 L212.46,318.10 L212.94,318.04 L213.42,317.96 L213.90,317.88 L214.38,317.82 L214.86,317.79 L215.34,317.81 L215.82,317.87 L216.30,317.94 L216.78,318.02 L217.26,318.07 L217.74,318.09 L218.22,318.06 L218.70,318.00 L219.18,317.92 L219.66,317.84 L220.14,317.77 L220.62,317.75 L221.10,317.76 L221.58,317.81 L222.06,317.88 L222.54,317.96 L223.02,318.02 L223.50,318.06 L223.98,318.05 L224.46,318.01 L224.94,317.94 L225.42,317.86 L225.90,317.78 L226.38,317.71 L226.86,317.68 L227.34,317.69 L227.82,317.73 L228.30,317.79 L228.78,317.87 L229.26,317.94 L229.74,317.99 L230.22,318.02 L230.70,318.00 L231.18,317.96 L231.66,317.88 L232.14,317.80 L232.62,317.71 L233.10,317.64 L233.58,317.60 L234.06,317.59 L234.54,317.61 L235.02,317.66 L235.50,317.72 L235.62,317.74 L235.74,317.76 L235.86,317.78 L235.98,317.80 L236.10,317.82 L236.22,317.84 L236.34,317.85 L236.46,317.87 L236.58,317.88 L236.70,317.90 L236.82,317.91 L236.94,317.92 L237.06,317.93 L237.18,317.94 L237.30,317.94 L237.42,317.95 L237.54,317.95 L237.66,317.95 L237.78,317.94 L237.90,317.94 L238.02,317.93 L238.14,317.93 L238.26,317.91 L238.38,317.90 L238.50,317.89 L238.62,317.87 L238.74,317.86 L238.86,317.84 L238.98,317.82 L239.10,317.80 L239.22,317.78 L239.34,317.76 L239.46,317.74 L239.58,317.71 L239.70,317.69 L239.82,317.67 L239.94,317.65 L240.06,317.62 L240.18,317.60 L240.30,317.58 L240.42,317.56 L240.54,317.54 L240.66,317.53 L240.78,317.51 L240.90,317.49 L241.02,317.48 L241.14,317.47 L241.26,317.46 L241.38,317.45 L241.50,317.44 L241.62,317.44 L241.74,317.44 L241.86,317.44 L241.98,317.44 L242.10,317.44 L242.22,317.44 L242.34,317.45 L242.46,317.46 L242.58,317.47 L242.70,317.48 L242.82,317.49 L242.94,317.50 L243.06,317.52 L243.18,317.53 L243.30,317.55 L243.42,317.56 L243.54,317.58 L243.66,317.60 L243.78,317.62 L243.90,317.63 L244.02,317.65 L244.14,317.67 L244.26,317.69 L244.38,317.71 L244.50,317.72 L244.62,317.74 L244.74,317.75 L244.86,317.76 L244.98,317.78 L245.10,317.79 L245.22,317.80 L245.34,317.81 L245.46,317.81 L245.58,317.82 L245.70,317.82 L245.82,317.82 L245.94,317.82 L246.06,317.82 L246.18,317.82 L246.30,317.81 L246.42,317.81 L246.54,317.80 L246.66,317.79 L246.78,317.78 L246.90,317.76 L247.02,317.75 L247.14,317.73 L247.26,317.72 L247.38,317.70 L247.50,317.68 L247.62,317.66 L247.74,317.64 L247.86,317.61 L247.98,317.59 L248.10,317.57 L248.22,317.55 L248.34,317.52 L248.46,317.50 L248.58,317.47 L248.70,317.45 L248.82,317.43 L248.94,317.40 L249.06,317.38 L249.18,317.36 L249.30,317.34 L249.42,317.32 L249.54,317.30 L249.66,317.28 L249.78,317.26 L249.90,317.25 L250.02,317.23 L250.14,317.22 L250.26,317.20 L250.38,317.19 L250.50,317.18 L250.62,317.18 L250.74,317.17 L250.86,317.17 L250.98,317.16 L251.10,317.16 L251.22,317.16 L251.34,317.16 L251.46,317.16 L251.58,317.17 L251.70,317.17 L251.82,317.18 L251.94,317.19 L252.06,317.20 L252.18,317.21 L252.30,317.22 L252.42,317.23 L252.54,317.24 L252.66,317.25 L252.78,317.27 L252.90,317.28 L253.02,317.30 L253.14,317.31 L253.26,317.33 L253.38,317.35 L253.50,317.36 L253.62,317.38 L253.74,317.39 L253.86,317.41 L253.98,317.42 L254.10,317.44 L254.22,317.45 L254.34,317.47 L254.46,317.48 L254.58,317.49 L254.70,317.50 L254.82,317.51 L254.94,317.52 L255.06,317.53 L255.18,317.54 L255.30,317.54 L255.42,317.55 L255.54,317.55 L255.66,317.55 L255.78,317.55 L255.90,317.55 L256.02,317.55 L256.14,317.55 L256.26,317.54 L256.38,317.53 L256.50,317.53 L256.62,317.52 L256.74,317.51 L256.86,317.49 L256.98,317.48 L257.10,317.47 L257.22,317.45 L257.34,317.43 L257.46,317.42 L257.58,317.40 L257.70,317.38 L257.82,317.35 L257.94,317.33 L258.06,317.31 L258.18,317.29 L258.30,317.26 L258.42,317.24 L258.54,317.21 L258.66,317.18 L258.78,317.16 L258.90,317.13 L259.02,317.10 L259.14,317.07 L259.26,317.05 L259.38,317.02 L259.50,316.99 L259.62,316.96 L259.74,316.94 L259.86,316.91 L259.98,316.88 L260.10,316.86 L260.22,316.83 L260.34,316.81 L260.46,316.78 L260.58,316.76 L260.70,316.73 L260.82,316.71 L260.94,316.69 L261.06,316.67 L261.18,316.65 L261.30,316.63 L261.42,316.61 L261.54,316.59 L261.66,316.58 L261.78,316.56 L261.90,316.55 L262.02,316.53 L262.14,316.52 L262.26,316.51 L262.38,316.50 L262.50,316.49 L262.62,316.48 L262.74,316.47 L262.86,316.47 L262.98,316.46 L263.10,316.46 L263.22,316.46 L263.34,316.45 L263.46,316.45 L263.58,316.45 L263.70,316.45 L263.82,316.45 L263.94,316.46 L264.06,316.46 L264.18,316.46 L264.30,316.47 L264.42,316.47 L264.54,316.48 L264.66,316.48 L264.78,316.49 L264.90,316.50 L265.02,316.50 L265.14,316.51 L265.26,316.52 L265.38,316.53 L265.50,316.54 L265.62,316.54 L265.74,316.55 L265.86,316.56 L265.98,316.57 L266.10,316.58 L266.22,316.58 L266.34,316.59 L266.46,316.60 L266.58,316.61 L266.70,316.61 L266.82,316.62 L266.94,316.63 L267.06,316.63 L267.18,316.64 L267.30,316.64 L267.42,316.64 L267.54,316.65 L267.66,316.65 L267.78,316.65 L267.90,316.65 L268.02,316.65 L268.14,316.65 L268.26,316.65 L268.38,316.65 L268.50,316.64 L268.62,316.64 L268.74,316.63 L268.86,316.62 L268.98,316.62 L269.10,316.61 L269.22,316.60 L269.34,316.59 L269.46,316.58 L269.58,316.56 L269.70,316.55 L269.82,316.53 L269.94,316.52 L270.06,316.50 L270.18,316.48 L270.30,316.46 L270.42,316.44 L270.54,316.42 L270.66,316.39 L270.78,316.37 L270.90,316.35 L271.02,316.32 L271.14,316.29 L271.26,316.26 L271.38,316.23 L271.50,316.20 L271.62,316.17 L271.74,316.14 L271.86,316.11 L271.98,316.07 L272.10,316.04 L272.22,316.00 L272.34,315.96 L272.46,315.93 L272.58,315.89 L272.70,315.85 L272.82,315.81 L272.94,315.77 L273.06,315.72 L273.18,315.68 L273.30,315.64 L273.42,315.59 L273.54,315.55 L273.66,315.50 L273.78,315.46 L273.90,315.41 L274.02,315.36 L274.14,315.31 L274.26,315.27 L274.38,315.22 L274.50,315.17 L274.62,315.12 L274.74,315.07 L274.86,315.02 L274.98,314.97 L275.10,314.91 L275.22,314.86 L275.34,314.81 L275.46,314.76 L275.58,314.70 L275.70,314.65 L275.82,314.60 L275.94,314.54 L276.06,314.49 L276.18,314.43 L276.30,314.38 L276.42,314.32 L276.54,314.27 L276.66,314.21 L276.78,314.16 L276.90,314.10 L277.02,314.04 L277.14,313.99 L277.26,313.93 L277.38,313.87 L277.50,313.82 L277.62,313.76 L277.74,313.70 L277.86,313.65 L277.98,313.59 L278.10,313.53 L278.22,313.47 L278.34,313.41 L278.46,313.36 L278.58,313.30 L278.70,313.24 L278.82,313.18 L278.94,313.12 L279.06,313.06 L279.18,313.00 L279.30,312.94 L279.42,312.88 L279.54,312.82 L279.66,312.76 L279.78,312.70 L279.90,312.64 L280.02,312.58 L280.14,312.52 L280.26,312.46 L280.38,312.39 L280.50,312.33 L280.62,312.27 L280.74,312.20 L280.86,312.14 L280.98,312.08 L281.10,312.01 L281.22,311.95 L281.34,311.88 L281.46,311.82 L281.58,311.75 L281.70,311.68 L281.82,311.61 L281.94,311.55 L282.06,311.48 L282.18,311.41 L282.30,311.34 L282.42,311.27 L282.54,311.19 L282.66,311.12 L282.78,311.05 L282.90,310.97 L283.02,310.90 L283.14,310.82 L283.26,310.75 L283.38,310.67 L283.50,310.59 L283.57,310.54 L283.64,310.50 L283.72,310.45 L283.79,310.40 L283.86,310.35 L283.93,310.30 L284.00,310.25 L284.08,310.20 L284.15,310.15 L284.22,310.10 L284.29,310.05 L284.36,309.99 L284.44,309.94 L284.51,309.89 L284.58,309.83 L284.65,309.78 L284.72,309.73 L284.80,309.67 L284.87,309.62 L284.94,309.56 L285.01,309.50 L285.08,309.45 L285.16,309.39 L285.23,309.33 L285.30,309.27 L285.37,309.21 L285.44,309.15 L285.52,309.09 L285.59,309.03 L285.66,308.97 L285.73,308.91 L285.80,308.85 L285.88,308.79 L285.95,308.72 L286.02,308.66 L286.09,308.59 L286.16,308.53 L286.24,308.46 L286.31,308.39 L286.38,308.33 L286.45,308.26 L286.52,308.19 L286.60,308.12 L286.67,308.05 L286.74,307.98 L286.81,307.90 L286.88,307.83 L286.96,307.76 L287.03,307.68 L287.10,307.61 L287.17,307.53 L287.24,307.46 L287.32,307.38 L287.39,307.30 L287.46,307.22 L287.53,307.14 L287.60,307.06 L287.68,306.98 L287.75,306.90 L287.82,306.82 L287.89,306.73 L287.96,306.65 L288.04,306.56 L288.11,306.47 L288.18,306.39 L288.25,306.30 L288.32,306.21 L288.40,306.12 L288.47,306.03 L288.54,305.93 L288.61,305.84 L288.68,305.75 L288.76,305.65 L288.83,305.55 L288.90,305.46 L288.97,305.36 L289.04,305.26 L289.12,305.16 L289.19,305.06 L289.26,304.95 L289.33,304.85 L289.40,304.74 L289.48,304.64 L289.55,304.53 L289.62,304.42 L289.69,304.31 L289.76,304.20 L289.84,304.09 L289.91,303.97 L289.98,303.86 L290.05,303.74 L290.12,303.63 L290.20,303.51 L290.27,303.39 L290.34,303.27 L290.41,303.15 L290.48,303.02 L290.56,302.90 L290.63,302.77 L290.70,302.64 L290.77,302.51 L290.84,302.38 L290.92,302.25 L290.99,302.12 L291.06,301.99 L291.13,301.85 L291.20,301.71 L291.28,301.57 L291.35,301.43 L291.42,301.29 L291.49,301.15 L291.56,301.00 L291.64,300.86 L291.71,300.71 L291.78,300.56 L291.85,300.41 L291.92,300.26 L292.00,300.10 L292.07,299.94 L292.14,299.79 L292.21,299.63 L292.28,299.47 L292.36,299.30 L292.43,299.14 L292.50,298.97 L292.57,298.81 L292.64,298.64 L292.72,298.47 L292.79,298.29 L292.86,298.12 L292.93,297.94 L293.00,297.76 L293.08,297.58 L293.15,297.40 L293.22,297.22 L293.29,297.03 L293.36,296.84 L293.44,296.65 L293.51,296.46 L293.58,296.27 L293.65,296.07 L293.72,295.88 L293.80,295.68 L293.87,295.48 L293.94,295.27 L294.01,295.07 L294.08,294.86 L294.16,294.65 L294.23,294.44 L294.30,294.22 L294.37,294.01 L294.44,293.79 L294.52,293.57 L294.59,293.35 L294.66,293.12 L294.73,292.90 L294.80,292.67 L294.88,292.44 L294.95,292.20 L295.02,291.97 L295.09,291.73 L295.16,291.49 L295.24,291.25 L295.31,291.00 L295.38,290.75 L295.45,290.50 L295.52,290.25 L295.60,290.00 L295.67,289.74 L295.74,289.48 L295.81,289.22 L295.88,288.96 L295.96,288.69 L296.03,288.42 L296.10,288.15 L296.17,287.87 L296.24,287.60 L296.32,287.32 L296.39,287.04 L296.46,286.75 L296.53,286.46 L296.60,286.18 L296.68,285.88 L296.75,285.59 L296.82,285.29 L296.89,284.99 L296.96,284.69 L297.04,284.38 L297.11,284.07 L297.18,283.76 L297.25,283.45 L297.32,283.13 L297.40,282.81 L297.47,282.49 L297.54,282.17 L297.61,281.84 L297.68,281.51 L297.76,281.18 L297.83,280.84 L297.90,280.50 L297.97,280.16 L298.04,279.81 L298.12,279.47 L298.19,279.12 L298.26,278.76 L298.33,278.41 L298.40,278.05 L298.48,277.69 L298.55,277.32 L298.62,276.95 L298.69,276.58 L298.76,276.21 L298.84,275.83 L298.91,275.45 L298.98,275.07 L299.05,274.68 L299.12,274.30 L299.20,273.90 L299.27,273.51 L299.34,273.11 L299.41,272.71 L299.48,272.31 L299.56,271.90 L299.63,271.49 L299.70,271.08 L299.77,270.66 L299.84,270.24 L299.92,269.82 L299.99,269.40 L300.06,268.97 L300.13,268.54 L300.20,268.10 L300.28,267.67 L300.35,267.23 L300.42,266.78 L300.49,266.34 L300.56,265.89 L300.64,265.43 L300.71,264.98 L300.78,264.52 L300.85,264.06 L300.92,263.60 L301.00,263.13 L301.07,262.66 L301.14,262.19 L301.21,261.71 L301.28,261.23 L301.36,260.75 L301.43,260.26 L301.50,259.78 L301.57,259.28 L301.64,258.79 L301.72,258.29 L301.79,257.79 L301.86,257.29 L301.93,256.79 L302.00,256.28 L302.08,255.77 L302.15,255.26 L302.22,254.74 L302.29,254.22 L302.36,253.70 L302.44,253.18 L302.51,252.65 L302.58,252.12 L302.65,251.59 L302.72,251.05 L302.80,250.52 L302.87,249.98 L302.94,249.43 L303.01,248.89 L303.08,248.34 L303.16,247.79 L303.23,247.24 L303.30,246.69 L303.37,246.13 L303.44,245.57 L303.52,245.01 L303.59,244.45 L303.66,243.89 L303.73,243.32 L303.80,242.75 L303.88,242.18 L303.95,241.61 L304.02,241.03 L304.09,240.46 L304.16,239.88 L304.24,239.30 L304.31,238.72 L304.38,238.13 L304.45,237.55 L304.52,236.96 L304.60,236.37 L304.67,235.78 L304.74,235.19 L304.81,234.60 L304.88,234.01 L304.96,233.42 L305.03,232.82 L305.10,232.22 L305.17,231.63 L305.24,231.03 L305.32,230.43 L305.39,229.83 L305.46,229.23 L305.53,228.63 L305.60,228.03 L305.68,227.43 L305.75,226.83 L305.82,226.22 L305.89,225.62 L305.96,225.02 L306.04,224.42 L306.11,223.82 L306.18,223.21 L306.25,222.61 L306.32,222.01 L306.40,221.41 L306.47,220.81 L306.54,220.21 L306.61,219.61 L306.68,219.01 L306.76,218.41 L306.83,217.82 L306.90,217.22 L306.97,216.63 L307.04,216.04 L307.12,215.44 L307.19,214.85 L307.26,214.27 L307.33,213.68 L307.40,213.10 L307.48,212.51 L307.55,211.93 L307.62,211.35 L307.69,210.78 L307.76,210.20 L307.84,209.63 L307.91,209.07 L307.98,208.50 L308.05,207.94 L308.12,207.38 L308.20,206.82 L308.27,206.27 L308.34,205.72 L308.41,205.17 L308.48,204.63 L308.56,204.09 L308.63,203.56 L308.70,203.03 L308.77,202.50 L308.84,201.98 L308.92,201.46 L308.99,200.94 L309.06,200.44 L309.13,199.93 L309.20,199.43 L309.28,198.94 L309.35,198.45 L309.42,197.97 L309.49,197.49 L309.56,197.02 L309.64,196.55 L309.71,196.09 L309.78,195.63 L309.85,195.18 L309.92,194.74 L310.00,194.31 L310.07,193.88 L310.14,193.45 L310.21,193.04 L310.28,192.63 L310.36,192.23 L310.43,191.83 L310.50,191.44 L310.57,191.06 L310.64,190.69 L310.72,190.33 L310.79,189.97 L310.86,189.62 L310.93,189.28 L311.00,188.95 L311.08,188.62 L311.15,188.31 L311.22,188.00 L311.29,187.70 L311.36,187.42 L311.44,187.14 L311.51,186.86 L311.58,186.60 L311.65,186.35 L311.72,186.11 L311.80,185.87 L311.87,185.65 L311.94,185.44 L312.01,185.23 L312.08,185.04 L312.16,184.85 L312.23,184.68 L312.30,184.52 L312.37,184.36 L312.44,184.22 L312.52,184.09 L312.59,183.97 L312.66,183.86 L312.73,183.76 L312.80,183.67 L312.88,183.59 L312.95,183.52 L313.02,183.47 L313.09,183.42 L313.16,183.39 L313.24,183.37 L313.31,183.36 L313.38,183.36 L313.45,183.37 L313.52,183.39 L313.60,183.43 L313.67,183.47 L313.74,183.53 L313.81,183.60 L313.88,183.68 L313.96,183.78 L314.03,183.88 L314.10,184.00 L314.17,184.13 L314.24,184.27 L314.32,184.42 L314.39,184.58 L314.46,184.76 L314.53,184.94 L314.60,185.14 L314.68,185.35 L314.75,185.57 L314.82,185.81 L314.89,186.05 L314.96,186.31 L315.04,186.57 L315.11,186.85 L315.18,187.14 L315.25,187.44 L315.32,187.75 L315.40,188.08 L315.47,188.41 L315.54,188.76 L315.61,189.11 L315.68,189.48 L315.76,189.85 L315.83,190.24 L315.90,190.63 L315.97,191.04 L316.04,191.46 L316.12,191.88 L316.19,192.32 L316.26,192.76 L316.33,193.22 L316.40,193.68 L316.48,194.15 L316.55,194.63 L316.62,195.12 L316.69,195.62 L316.76,196.13 L316.84,196.64 L316.91,197.16 L316.98,197.69 L317.05,198.23 L317.12,198.77 L317.20,199.32 L317.27,199.88 L317.34,200.44 L317.41,201.01 L317.48,201.59 L317.56,202.17 L317.63,202.75 L317.70,203.34 L317.77,203.94 L317.84,204.54 L317.92,205.14 L317.99,205.75 L318.06,206.36 L318.13,206.98 L318.20,207.59 L318.28,208.21 L318.35,208.83 L318.42,209.46 L318.49,210.08 L318.56,210.71 L318.64,211.34 L318.71,211.96 L318.78,212.59 L318.85,213.22 L318.92,213.85 L319.00,214.47 L319.07,215.10 L319.14,215.72 L319.21,216.34 L319.28,216.96 L319.36,217.58 L319.43,218.19 L319.50,218.80 L319.57,219.41 L319.64,220.01 L319.72,220.61 L319.79,221.20 L319.86,221.79 L319.93,222.37 L320.00,222.94 L320.08,223.51 L320.15,224.07 L320.22,224.63 L320.29,225.18 L320.36,225.72 L320.44,226.25 L320.51,226.77 L320.58,227.28 L320.65,227.79 L320.72,228.28 L320.80,228.77 L320.87,229.24 L320.94,229.71 L321.01,230.16 L321.08,230.60 L321.16,231.03 L321.23,231.45 L321.30,231.85 L321.37,232.24 L321.44,232.62 L321.52,232.99 L321.59,233.34 L321.66,233.68 L321.73,234.01 L321.80,234.32 L321.88,234.61 L321.95,234.89 L322.02,235.16 L322.09,235.41 L322.16,235.64 L322.24,235.86 L322.31,236.07 L322.38,236.25 L322.45,236.42 L322.52,236.58 L322.60,236.72 L322.67,236.84 L322.74,236.94 L322.81,237.03 L322.88,237.10 L322.96,237.15 L323.03,237.18 L323.10,237.20 L323.17,237.20 L323.24,237.18 L323.32,237.15 L323.39,237.10 L323.46,237.03 L323.53,236.94 L323.60,236.83 L323.68,236.71 L323.75,236.57 L323.82,236.41 L323.89,236.24 L323.96,236.05 L324.04,235.84 L324.11,235.61 L324.18,235.37 L324.25,235.11 L324.32,234.83 L324.40,234.54 L324.47,234.23 L324.54,233.91 L324.61,233.57 L324.68,233.22 L324.76,232.85 L324.83,232.46 L324.90,232.07 L324.97,231.65 L325.04,231.23 L325.12,230.79 L325.19,230.33 L325.26,229.87 L325.33,229.39 L325.40,228.90 L325.48,228.40 L325.55,227.89 L325.62,227.37 L325.69,226.84 L325.76,226.29 L325.84,225.74 L325.91,225.18 L325.98,224.61 L326.05,224.04 L326.12,223.46 L326.20,222.87 L326.27,222.27 L326.34,221.67 L326.41,221.07 L326.48,220.46 L326.56,219.84 L326.63,219.23 L326.70,218.61 L326.77,217.99 L326.84,217.37 L326.92,216.75 L326.99,216.12 L327.06,215.50 L327.13,214.88 L327.20,214.26 L327.28,213.65 L327.35,213.04 L327.42,212.43 L327.49,211.82 L327.56,211.22 L327.64,210.63 L327.71,210.04 L327.78,209.46 L327.85,208.89 L327.92,208.33 L328.00,207.77 L328.07,207.23 L328.14,206.69 L328.21,206.17 L328.28,205.66 L328.36,205.15 L328.43,204.67 L328.50,204.19 L328.57,203.73 L328.64,203.28 L328.72,202.85 L328.79,202.43 L328.86,202.03 L328.93,201.64 L329.00,201.28 L329.08,200.92 L329.15,200.59 L329.22,200.27 L329.29,199.98 L329.36,199.70 L329.44,199.44 L329.51,199.20 L329.58,198.98 L329.65,198.78 L329.72,198.60 L329.80,198.44 L329.87,198.30 L329.94,198.19 L330.01,198.09 L330.08,198.02 L330.16,197.97 L330.23,197.94 L330.30,197.93 L330.37,197.94 L330.44,197.98 L330.52,198.03 L330.59,198.11 L330.66,198.21 L330.73,198.34 L330.80,198.48 L330.88,198.65 L330.95,198.84 L331.02,199.04 L331.09,199.27 L331.16,199.52 L331.24,199.79 L331.31,200.08 L331.38,200.40 L331.45,200.72 L331.52,201.07 L331.60,201.44 L331.67,201.83 L331.74,202.23 L331.81,202.65 L331.88,203.09 L331.96,203.54 L332.03,204.01 L332.10,204.49 L332.17,204.99 L332.24,205.50 L332.32,206.03 L332.39,206.56 L332.46,207.11 L332.53,207.67 L332.60,208.24 L332.68,208.82 L332.75,209.40 L332.82,210.00 L332.89,210.60 L332.96,211.21 L333.04,211.82 L333.11,212.44 L333.18,213.06 L333.25,213.68 L333.32,214.30 L333.40,214.93 L333.47,215.55 L333.54,216.18 L333.61,216.80 L333.68,217.42 L333.76,218.03 L333.83,218.64 L333.90,219.25 L333.97,219.85 L334.04,220.44 L334.12,221.02 L334.19,221.59 L334.26,222.15 L334.33,222.71 L334.40,223.25 L334.48,223.77 L334.55,224.29 L334.62,224.79 L334.69,225.27 L334.76,225.74 L334.84,226.19 L334.91,226.62 L334.98,227.04 L335.05,227.44 L335.12,227.81 L335.20,228.17 L335.27,228.51 L335.34,228.82 L335.41,229.12 L335.48,229.39 L335.56,229.63 L335.63,229.86 L335.70,230.06 L335.77,230.24 L335.84,230.39 L335.92,230.52 L335.99,230.62 L336.06,230.70 L336.13,230.75 L336.20,230.78 L336.28,230.78 L336.35,230.76 L336.42,230.71 L336.49,230.63 L336.56,230.53 L336.64,230.40 L336.71,230.25 L336.78,230.08 L336.85,229.87 L336.92,229.65 L337.00,229.40 L337.07,229.13 L337.14,228.83 L337.21,228.51 L337.28,228.17 L337.36,227.81 L337.43,227.42 L337.50,227.02 L337.57,226.59 L337.64,226.15 L337.72,225.69 L337.79,225.21 L337.86,224.72 L337.93,224.21 L338.00,223.68 L338.08,223.14 L338.15,222.59 L338.22,222.02 L338.29,221.45 L338.36,220.86 L338.44,220.27 L338.51,219.67 L338.58,219.06 L338.65,218.45 L338.72,217.83 L338.80,217.21 L338.87,216.59 L338.94,215.96 L339.01,215.34 L339.08,214.72 L339.16,214.10 L339.23,213.49 L339.30,212.88 L339.37,212.28 L339.44,211.68 L339.52,211.09 L339.59,210.52 L339.66,209.95 L339.73,209.40 L339.80,208.86 L339.88,208.33 L339.95,207.82 L340.02,207.33 L340.09,206.85 L340.16,206.40 L340.24,205.96 L340.31,205.54 L340.38,205.14 L340.45,204.77 L340.52,204.42 L340.60,204.09 L340.67,203.79 L340.74,203.51 L340.81,203.26 L340.88,203.03 L340.96,202.83 L341.03,202.66 L341.10,202.51 L341.17,202.40 L341.24,202.31 L341.32,202.25 L341.39,202.22 L341.46,202.21 L341.53,202.24 L341.60,202.30 L341.68,202.38 L341.75,202.49 L341.82,202.63 L341.89,202.80 L341.96,203.00 L342.04,203.22 L342.11,203.47 L342.18,203.75 L342.25,204.05 L342.32,204.38 L342.40,204.74 L342.47,205.11 L342.54,205.51 L342.61,205.94 L342.68,206.38 L342.76,206.84 L342.83,207.33 L342.90,207.83 L342.97,208.35 L343.04,208.88 L343.12,209.43 L343.19,209.99 L343.26,210.57 L343.33,211.16 L343.40,211.75 L343.48,212.36 L343.55,212.97 L343.62,213.58 L343.69,214.20 L343.76,214.83 L343.84,215.45 L343.91,216.08 L343.98,216.70 L344.05,217.32 L344.12,217.93 L344.20,218.54 L344.27,219.14 L344.34,219.73 L344.41,220.31 L344.48,220.88 L344.56,221.44 L344.63,221.98 L344.70,222.50 L344.77,223.01 L344.84,223.50 L344.92,223.97 L344.99,224.42 L345.06,224.84 L345.13,225.24 L345.20,225.62 L345.28,225.98 L345.35,226.30 L345.42,226.60 L345.49,226.87 L345.56,227.12 L345.64,227.33 L345.71,227.52 L345.78,227.67 L345.85,227.79 L345.92,227.89 L346.00,227.95 L346.07,227.98 L346.14,227.97 L346.21,227.94 L346.28,227.88 L346.36,227.78 L346.43,227.65 L346.50,227.49 L346.57,227.30 L346.64,227.08 L346.72,226.83 L346.79,226.55 L346.86,226.24 L346.93,225.91 L347.00,225.55 L347.08,225.16 L347.15,224.75 L347.22,224.31 L347.29,223.85 L347.36,223.37 L347.44,222.87 L347.51,222.35 L347.58,221.82 L347.65,221.26 L347.72,220.70 L347.80,220.12 L347.87,219.53 L347.94,218.93 L348.01,218.32 L348.08,217.70 L348.16,217.08 L348.23,216.46 L348.30,215.84 L348.37,215.22 L348.44,214.60 L348.52,213.98 L348.59,213.37 L348.66,212.76 L348.73,212.17 L348.80,211.59 L348.88,211.02 L348.95,210.46 L349.02,209.92 L349.09,209.40 L349.16,208.89 L349.24,208.41 L349.31,207.95 L349.38,207.51 L349.45,207.10 L349.52,206.71 L349.60,206.35 L349.67,206.02 L349.74,205.72 L349.81,205.45 L349.88,205.20 L349.96,204.99 L350.03,204.82 L350.10,204.67 L350.17,204.56 L350.24,204.48 L350.32,204.44 L350.39,204.43 L350.46,204.46 L350.53,204.52 L350.60,204.61 L350.68,204.74 L350.75,204.90 L350.82,205.10 L350.89,205.32 L350.96,205.58 L351.04,205.87 L351.11,206.19 L351.18,206.54 L351.25,206.92 L351.32,207.33 L351.40,207.76 L351.47,208.22 L351.54,208.70 L351.61,209.20 L351.68,209.72 L351.76,210.26 L351.83,210.81 L351.90,211.39 L351.97,211.97 L352.04,212.57 L352.12,213.17 L352.19,213.79 L352.26,214.41 L352.33,215.03 L352.40,215.65 L352.48,216.28 L352.55,216.90 L352.62,217.51 L352.69,218.12 L352.76,218.73 L352.84,219.32 L352.91,219.90 L352.98,220.46 L353.05,221.01 L353.12,221.54 L353.20,222.05 L353.27,222.54 L353.34,223.00 L353.41,223.44 L353.48,223.85 L353.56,224.24 L353.63,224.59 L353.70,224.92 L353.77,225.21 L353.84,225.48 L353.92,225.70 L353.99,225.90 L354.06,226.05 L354.13,226.18 L354.20,226.26 L354.28,226.31 L354.35,226.33 L354.42,226.30 L354.49,226.24 L354.56,226.14 L354.64,226.01 L354.71,225.84 L354.78,225.64 L354.85,225.40 L354.92,225.12 L355.00,224.82 L355.07,224.48 L355.14,224.11 L355.21,223.71 L355.28,223.29 L355.36,222.83 L355.43,222.36 L355.50,221.86 L355.57,221.33 L355.64,220.79 L355.72,220.23 L355.79,219.66 L355.86,219.07 L355.93,218.47 L356.00,217.86 L356.08,217.24 L356.15,216.62 L356.22,216.00 L356.29,215.37 L356.36,214.75 L356.44,214.14 L356.51,213.53 L356.58,212.93 L356.65,212.34 L356.72,211.76 L356.80,211.20 L356.87,210.66 L356.94,210.14 L357.01,209.64 L357.08,209.16 L357.16,208.71 L357.23,208.29 L357.30,207.89 L357.37,207.53 L357.44,207.20 L357.52,206.90 L357.59,206.64 L357.66,206.41 L357.73,206.22 L357.80,206.07 L357.88,205.96 L357.95,205.88 L358.02,205.84 L358.09,205.84 L358.16,205.88 L358.24,205.96 L358.31,206.08 L358.38,206.24 L358.45,206.43 L358.52,206.67 L358.60,206.93 L358.67,207.24 L358.74,207.57 L358.81,207.94 L358.88,208.34 L358.96,208.77 L359.03,209.23 L359.10,209.72 L359.17,210.23 L359.24,210.76 L359.32,211.31 L359.39,211.87 L359.46,212.46 L359.53,213.05 L359.60,213.66 L359.68,214.28 L359.75,214.90 L359.82,215.52 L359.89,216.14 L359.96,216.77 L360.04,217.38 L360.11,217.99 L360.18,218.59 L360.25,219.18 L360.32,219.75 L360.40,220.31 L360.47,220.84 L360.54,221.36 L360.61,221.84 L360.68,222.31 L360.76,222.74 L360.83,223.15 L360.90,223.52 L360.97,223.86 L361.04,224.16 L361.12,224.43 L361.19,224.66 L361.26,224.85 L361.33,225.00 L361.40,225.11 L361.48,225.18 L361.55,225.21 L361.62,225.19 L361.69,225.14 L361.76,225.04 L361.84,224.91 L361.91,224.73 L361.98,224.52 L362.05,224.26 L362.12,223.97 L362.20,223.65 L362.27,223.28 L362.34,222.89 L362.41,222.46 L362.48,222.00 L362.56,221.52 L362.63,221.01 L362.70,220.48 L362.77,219.93 L362.84,219.36 L362.92,218.77 L362.99,218.17 L363.06,217.56 L363.13,216.94 L363.20,216.32 L363.28,215.70 L363.35,215.07 L363.42,214.46 L363.49,213.84 L363.56,213.24 L363.64,212.65 L363.71,212.08 L363.78,211.52 L363.85,210.99 L363.92,210.47 L364.00,209.99 L364.07,209.53 L364.14,209.10 L364.21,208.70 L364.28,208.34 L364.36,208.01 L364.43,207.72 L364.50,207.47 L364.57,207.26 L364.64,207.09 L364.72,206.96 L364.79,206.88 L364.86,206.83 L364.93,206.84 L365.00,206.88 L365.08,206.97 L365.15,207.10 L365.22,207.27 L365.29,207.49 L365.36,207.74 L365.44,208.04 L365.51,208.37 L365.58,208.74 L365.65,209.14 L365.72,209.57 L365.80,210.04 L365.87,210.53 L365.94,211.05 L366.01,211.60 L366.08,212.16 L366.16,212.74 L366.23,213.33 L366.30,213.94 L366.37,214.56 L366.44,215.18 L366.52,215.80 L366.59,216.43 L366.66,217.04 L366.73,217.66 L366.80,218.26 L366.88,218.85 L366.95,219.42 L367.02,219.98 L367.09,220.51 L367.16,221.02 L367.24,221.50 L367.31,221.95 L367.38,222.36 L367.45,222.75 L367.52,223.10 L367.60,223.40 L367.67,223.67 L367.74,223.90 L367.81,224.08 L367.88,224.23 L367.96,224.32 L368.03,224.37 L368.10,224.38 L368.17,224.34 L368.24,224.26 L368.32,224.13 L368.39,223.96 L368.46,223.74 L368.53,223.48 L368.60,223.18 L368.68,222.84 L368.75,222.47 L368.82,222.06 L368.89,221.61 L368.96,221.13 L369.04,220.63 L369.11,220.10 L369.18,219.55 L369.25,218.98 L369.32,218.39 L369.40,217.78 L369.47,217.17 L369.54,216.55 L369.61,215.93 L369.68,215.30 L369.76,214.68 L369.83,214.07 L369.90,213.47 L369.97,212.88 L370.04,212.31 L370.12,211.75 L370.19,211.22 L370.26,210.72 L370.33,210.25 L370.40,209.80 L370.48,209.40 L370.55,209.02 L370.62,208.69 L370.69,208.40 L370.76,208.15 L370.84,207.94 L370.91,207.78 L370.98,207.67 L371.05,207.60 L371.12,207.58 L371.20,207.60 L371.27,207.68 L371.34,207.80 L371.41,207.96 L371.48,208.17 L371.56,208.43 L371.63,208.73 L371.70,209.07 L371.77,209.44 L371.84,209.86 L371.92,210.31 L371.99,210.79 L372.06,211.30 L372.13,211.83 L372.20,212.39 L372.28,212.97 L372.35,213.56 L372.42,214.17 L372.49,214.79 L372.56,215.41 L372.64,216.04 L372.71,216.66 L372.78,217.27 L372.85,217.88 L372.92,218.48 L373.00,219.05 L373.07,219.61 L373.14,220.15 L373.21,220.65 L373.28,221.13 L373.36,221.58 L373.43,221.99 L373.50,222.36 L373.57,222.69 L373.64,222.98 L373.72,223.22 L373.79,223.42 L373.86,223.58 L373.93,223.68 L374.00,223.74 L374.08,223.74 L374.15,223.70 L374.22,223.61 L374.29,223.47 L374.36,223.28 L374.44,223.05 L374.51,222.77 L374.58,222.45 L374.65,222.09 L374.72,221.69 L374.80,221.25 L374.87,220.78 L374.94,220.27 L375.01,219.74 L375.08,219.19 L375.16,218.61 L375.23,218.02 L375.30,217.41 L375.37,216.79 L375.44,216.17 L375.52,215.55 L375.59,214.93 L375.66,214.31 L375.73,213.71 L375.80,213.12 L375.88,212.54 L375.95,211.99 L376.02,211.47 L376.09,210.97 L376.16,210.50 L376.24,210.07 L376.31,209.68 L376.38,209.33 L376.45,209.02 L376.52,208.76 L376.60,208.54 L376.67,208.37 L376.74,208.25 L376.81,208.19 L376.88,208.17 L376.96,208.20 L377.03,208.28 L377.10,208.42 L377.17,208.60 L377.24,208.83 L377.32,209.11 L377.39,209.43 L377.46,209.79 L377.53,210.20 L377.60,210.64 L377.68,211.12 L377.75,211.63 L377.82,212.16 L377.89,212.73 L377.96,213.31 L378.04,213.91 L378.11,214.52 L378.18,215.14 L378.25,215.76 L378.32,216.38 L378.40,217.00 L378.47,217.61 L378.54,218.21 L378.61,218.79 L378.68,219.35 L378.76,219.88 L378.83,220.39 L378.90,220.86 L378.97,221.30 L379.04,221.70 L379.12,222.06 L379.19,222.37 L379.26,222.64 L379.33,222.86 L379.40,223.03 L379.48,223.15 L379.55,223.22 L379.62,223.23 L379.69,223.19 L379.76,223.10 L379.84,222.96 L379.91,222.77 L379.98,222.53 L380.05,222.24 L380.12,221.90 L380.20,221.52 L380.27,221.10 L380.34,220.65 L380.41,220.16 L380.48,219.63 L380.56,219.08 L380.63,218.51 L380.70,217.92 L380.77,217.31 L380.84,216.70 L380.92,216.07 L380.99,215.45 L381.06,214.83 L381.13,214.22 L381.20,213.62 L381.28,213.03 L381.35,212.47 L381.42,211.93 L381.49,211.43 L381.56,210.95 L381.64,210.51 L381.71,210.11 L381.78,209.76 L381.85,209.45 L381.92,209.19 L382.00,208.98 L382.07,208.82 L382.14,208.71 L382.21,208.65 L382.28,208.65 L382.36,208.71 L382.43,208.82 L382.50,208.98 L382.57,209.19 L382.64,209.45 L382.72,209.76 L382.79,210.12 L382.86,210.52 L382.93,210.96 L383.00,211.44 L383.08,211.95 L383.15,212.49 L383.22,213.06 L383.29,213.65 L383.36,214.25 L383.44,214.86 L383.51,215.49 L383.58,216.11 L383.65,216.73 L383.72,217.34 L383.80,217.95 L383.87,218.53 L383.94,219.09 L384.01,219.63 L384.08,220.14 L384.16,220.61 L384.23,221.04 L384.30,221.44 L384.37,221.78 L384.44,222.09 L384.52,222.34 L384.59,222.54 L384.66,222.68 L384.73,222.77 L384.80,222.81 L384.88,222.79 L384.95,222.71 L385.02,222.58 L385.09,222.40 L385.16,222.16 L385.24,221.87 L385.31,221.54 L385.38,221.15 L385.45,220.73 L385.52,220.26 L385.60,219.76 L385.67,219.23 L385.74,218.67 L385.81,218.09 L385.88,217.49 L385.96,216.88 L386.03,216.26 L386.10,215.63 L386.17,215.01 L386.24,214.40 L386.32,213.79 L386.39,213.21 L386.46,212.65 L386.53,212.11 L386.60,211.61 L386.68,211.14 L386.75,210.71 L386.82,210.32 L386.89,209.98 L386.96,209.69 L387.04,209.45 L387.11,209.27 L387.18,209.14 L387.25,209.06 L387.32,209.05 L387.40,209.09 L387.47,209.19 L387.54,209.34 L387.61,209.55 L387.68,209.81 L387.76,210.13 L387.83,210.49 L387.90,210.90 L387.97,211.35 L388.04,211.83 L388.12,212.35 L388.19,212.91 L388.26,213.48 L388.33,214.08 L388.40,214.69 L388.48,215.31 L388.55,215.93 L388.62,216.55 L388.69,217.17 L388.76,217.77 L388.84,218.36 L388.91,218.92 L388.98,219.46 L389.05,219.96 L389.12,220.43 L389.20,220.86 L389.27,221.24 L389.34,221.58 L389.41,221.86 L389.48,222.09 L389.56,222.27 L389.63,222.38 L389.70,222.44 L389.77,222.44 L389.84,222.39 L389.92,222.27 L389.99,222.10 L390.06,221.87 L390.13,221.59 L390.20,221.25 L390.28,220.87 L390.35,220.44 L390.42,219.97 L390.49,219.47 L390.56,218.93 L390.64,218.36 L390.71,217.77 L390.78,217.17 L390.85,216.55 L390.92,215.93 L391.00,215.31 L391.07,214.69 L391.14,214.08 L391.21,213.49 L391.28,212.92 L391.36,212.38 L391.43,211.87 L391.50,211.40 L391.57,210.97 L391.64,210.58 L391.72,210.25 L391.79,209.96 L391.86,209.73 L391.93,209.56 L392.00,209.45 L392.08,209.39 L392.15,209.40 L392.22,209.47 L392.29,209.59 L392.36,209.78 L392.44,210.02 L392.51,210.31 L392.58,210.66 L392.65,211.06 L392.72,211.50 L392.80,211.98 L392.87,212.50 L392.94,213.05 L393.01,213.62 L393.08,214.22 L393.16,214.83 L393.23,215.45 L393.30,216.08 L393.37,216.70 L393.44,217.31 L393.52,217.91 L393.59,218.48 L393.66,219.04 L393.73,219.56 L393.80,220.04 L393.88,220.48 L393.95,220.88 L394.02,221.23 L394.09,221.53 L394.16,221.77 L394.24,221.95 L394.31,222.07 L394.38,222.14 L394.45,222.14 L394.52,222.07 L394.60,221.95 L394.67,221.77 L394.74,221.53 L394.81,221.23 L394.88,220.88 L394.96,220.48 L395.03,220.04 L395.10,219.55 L395.17,219.03 L395.24,218.48 L395.32,217.90 L395.39,217.30 L395.46,216.68 L395.53,216.06 L395.60,215.44 L395.68,214.82 L395.75,214.21 L395.82,213.62 L395.89,213.05 L395.96,212.51 L396.04,212.00 L396.11,211.54 L396.18,211.11 L396.25,210.74 L396.32,210.42 L396.40,210.15 L396.47,209.94 L396.54,209.79 L396.61,209.71 L396.68,209.68 L396.76,209.72 L396.83,209.83 L396.90,209.99 L396.97,210.21 L397.04,210.50 L397.12,210.83 L397.19,211.22 L397.26,211.66 L397.33,212.14 L397.40,212.66 L397.48,213.21 L397.55,213.78 L397.62,214.38 L397.69,215.00 L397.76,215.62 L397.84,216.24 L397.91,216.86 L397.98,217.47 L398.05,218.06 L398.12,218.63 L398.20,219.16 L398.27,219.66 L398.34,220.13 L398.41,220.54 L398.48,220.91 L398.56,221.22 L398.63,221.47 L398.70,221.67 L398.77,221.80 L398.84,221.87 L398.92,221.87 L398.99,221.81 L399.06,221.68 L399.13,221.50 L399.20,221.25 L399.28,220.94 L399.35,220.58 L399.42,220.17 L399.49,219.71 L399.56,219.21 L399.64,218.68 L399.71,218.11 L399.78,217.52 L399.85,216.92 L399.92,216.30 L400.00,215.67 L400.07,215.05 L400.14,214.44 L400.21,213.84 L400.28,213.27 L400.36,212.72 L400.43,212.21 L400.50,211.74 L400.57,211.32 L400.64,210.94 L400.72,210.62 L400.79,210.36 L400.86,210.16 L400.93,210.02 L401.00,209.95 L401.08,209.95 L401.15,210.00 L401.22,210.13 L401.29,210.32 L401.36,210.57 L401.44,210.88 L401.51,211.24 L401.58,211.66 L401.65,212.12 L401.72,212.63 L401.80,213.17 L401.87,213.74 L401.94,214.33 L402.01,214.94 L402.08,215.56 L402.16,216.19 L402.23,216.81 L402.30,217.42 L402.37,218.01 L402.44,218.57 L402.52,219.10 L402.59,219.60 L402.66,220.05 L402.73,220.45 L402.80,220.81 L402.88,221.10 L402.95,221.33 L403.02,221.50 L403.09,221.60 L403.16,221.64 L403.24,221.61 L403.31,221.51 L403.38,221.35 L403.45,221.12 L403.52,220.83 L403.60,220.49 L403.67,220.09 L403.74,219.64 L403.81,219.14 L403.88,218.61 L403.96,218.05 L404.03,217.46 L404.10,216.85 L404.17,216.23 L404.24,215.60 L404.32,214.98 L404.39,214.37 L404.46,213.78 L404.53,213.22 L404.60,212.68 L404.68,212.18 L404.75,211.73 L404.82,211.33 L404.89,210.98 L404.96,210.69 L405.04,210.46 L405.11,210.29 L405.18,210.20 L405.25,210.17 L405.32,210.21 L405.40,210.32 L405.47,210.49 L405.54,210.73 L405.61,211.03 L405.68,211.39 L405.76,211.81 L405.83,212.27 L405.90,212.77 L405.97,213.32 L406.04,213.89 L406.12,214.49 L406.19,215.10 L406.26,215.72 L406.33,216.35 L406.40,216.96 L406.48,217.57 L406.55,218.15 L406.62,218.70 L406.69,219.22 L406.76,219.69 L406.84,220.12 L406.91,220.49 L406.98,220.81 L407.05,221.06 L407.12,221.25 L407.20,221.37 L407.27,221.43 L407.34,221.41 L407.41,221.32 L407.48,221.17 L407.56,220.95 L407.63,220.66 L407.70,220.32 L407.77,219.91 L407.84,219.46 L407.92,218.96 L407.99,218.43 L408.06,217.86 L408.13,217.26 L408.20,216.65 L408.28,216.03 L408.35,215.41 L408.42,214.79 L408.49,214.19 L408.56,213.60 L408.64,213.05 L408.71,212.53 L408.78,212.06 L408.85,211.64 L408.92,211.27 L409.00,210.96 L409.07,210.71 L409.14,210.53 L409.21,210.41 L409.28,210.37 L409.36,210.40 L409.43,210.50 L409.50,210.67 L409.57,210.91 L409.64,211.21 L409.72,211.57 L409.79,211.99 L409.86,212.45 L409.93,212.97 L410.00,213.51 L410.08,214.09 L410.15,214.69 L410.22,215.31 L410.29,215.93 L410.36,216.56 L410.44,217.17 L410.51,217.76 L410.58,218.33 L410.65,218.87 L410.72,219.36 L410.80,219.81 L410.87,220.21 L410.94,220.54 L411.01,220.82 L411.08,221.03 L411.16,221.17 L411.23,221.23 L411.30,221.23 L411.37,221.15 L411.44,221.00 L411.52,220.79 L411.59,220.51 L411.66,220.16 L411.73,219.76 L411.80,219.30 L411.88,218.80 L411.95,218.26 L412.02,217.68 L412.09,217.08 L412.16,216.47 L412.24,215.85 L412.31,215.22 L412.38,214.61 L412.45,214.01 L412.52,213.44 L412.60,212.91 L412.67,212.41 L412.74,211.96 L412.81,211.57 L412.88,211.23 L412.96,210.96 L413.03,210.75 L413.10,210.62 L413.17,210.56 L413.24,210.57 L413.32,210.66 L413.39,210.82 L413.46,211.04 L413.53,211.34 L413.60,211.70 L413.68,212.11 L413.75,212.58 L413.82,213.09 L413.89,213.64 L413.96,214.22 L414.04,214.83 L414.11,215.45 L414.18,216.07 L414.25,216.69 L414.32,217.30 L414.40,217.89 L414.47,218.44 L414.54,218.97 L414.61,219.44 L414.68,219.87 L414.76,220.24 L414.83,220.54 L414.90,220.78 L414.97,220.95 L415.04,221.05 L415.12,221.07 L415.19,221.02 L415.26,220.89 L415.33,220.69 L415.40,220.42 L415.48,220.09 L415.55,219.69 L415.62,219.24 L415.69,218.75 L415.76,218.21 L415.84,217.63 L415.91,217.03 L415.98,216.42 L416.05,215.80 L416.12,215.17 L416.20,214.56 L416.27,213.97 L416.34,213.41 L416.41,212.88 L416.48,212.39 L416.56,211.96 L416.63,211.58 L416.70,211.27 L416.77,211.02 L416.84,210.85 L416.92,210.75 L416.99,210.72 L417.06,210.77 L417.13,210.90 L417.20,211.10 L417.28,211.37 L417.35,211.70 L417.42,212.10 L417.49,212.55 L417.56,213.05 L417.64,213.60 L417.71,214.17 L417.78,214.77 L417.85,215.39 L417.92,216.02 L418.00,216.64 L418.07,217.24 L418.14,217.83 L418.21,218.39 L418.28,218.91 L418.36,219.38 L418.43,219.80 L418.50,220.16 L418.57,220.45 L418.64,220.68 L418.72,220.83 L418.79,220.91 L418.86,220.90 L418.93,220.83 L419.00,220.67 L419.08,220.45 L419.15,220.15 L419.22,219.79 L419.29,219.36 L419.36,218.89 L419.44,218.37 L419.51,217.81 L419.58,217.22 L419.65,216.61 L419.72,215.98 L419.80,215.36 L419.87,214.75 L419.94,214.15 L420.01,213.58 L420.08,213.04 L420.16,212.55 L420.23,212.11 L420.30,211.73 L420.37,211.41 L420.44,211.17 L420.52,210.99 L420.59,210.90 L420.66,210.88 L420.73,210.94 L420.80,211.07 L420.88,211.28 L420.95,211.56 L421.02,211.91 L421.09,212.32 L421.16,212.79 L421.24,213.31 L421.31,213.86 L421.38,214.45 L421.45,215.06 L421.52,215.68 L421.60,216.30 L421.67,216.92 L421.74,217.52 L421.81,218.09 L421.88,218.62 L421.96,219.12 L422.03,219.56 L422.10,219.94 L422.17,220.25 L422.24,220.49 L422.32,220.66 L422.39,220.75 L422.46,220.77 L422.53,220.70 L422.60,220.56 L422.68,220.34 L422.75,220.05 L422.82,219.69 L422.89,219.26 L422.96,218.79 L423.04,218.26 L423.11,217.70 L423.18,217.11 L423.25,216.50 L423.32,215.87 L423.40,215.25 L423.47,214.64 L423.54,214.05 L423.61,213.49 L423.68,212.96 L423.76,212.49 L423.83,212.07 L423.90,211.71 L423.97,211.43 L424.04,211.21 L424.12,211.07 L424.19,211.02 L424.26,211.04 L424.33,211.14 L424.40,211.32 L424.48,211.58 L424.55,211.90 L424.62,212.29 L424.69,212.75 L424.76,213.25 L424.84,213.80 L424.91,214.38 L424.98,214.98 L425.05,215.60 L425.12,216.22 L425.20,216.84 L425.27,217.44 L425.34,218.02 L425.41,218.55 L425.48,219.04 L425.56,219.48 L425.63,219.86 L425.70,220.16 L425.77,220.40 L425.84,220.56 L425.92,220.63 L425.99,220.63 L426.06,220.54 L426.13,220.38 L426.20,220.14 L426.28,219.82 L426.35,219.44 L426.42,219.00 L426.49,218.50 L426.56,217.96 L426.64,217.38 L426.71,216.78 L426.78,216.16 L426.85,215.54 L426.92,214.92 L427.00,214.32 L427.07,213.74 L427.14,213.21 L427.21,212.72 L427.28,212.28 L427.36,211.91 L427.43,211.60 L427.50,211.37 L427.57,211.22 L427.64,211.15 L427.72,211.16 L427.79,211.25 L427.86,211.43 L427.93,211.68 L428.00,212.00 L428.08,212.39 L428.15,212.85 L428.22,213.35 L428.29,213.90 L428.36,214.48 L428.44,215.09 L428.51,215.71 L428.58,216.34 L428.65,216.95 L428.72,217.55 L428.80,218.11 L428.87,218.63 L428.94,219.11 L429.01,219.53 L429.08,219.88 L429.16,220.16 L429.23,220.36 L429.30,220.48 L429.37,220.52 L429.44,220.48 L429.52,220.35 L429.59,220.14 L429.66,219.86 L429.73,219.50 L429.80,219.08 L429.88,218.60 L429.95,218.07 L430.02,217.51 L430.09,216.91 L430.16,216.29 L430.24,215.67 L430.31,215.05 L430.38,214.44 L430.45,213.87 L430.52,213.32 L430.60,212.83 L430.67,212.39 L430.74,212.01 L430.81,211.71 L430.88,211.48 L430.96,211.33 L431.03,211.26 L431.10,211.28 L431.17,211.39 L431.24,211.57 L431.32,211.83 L431.39,212.17 L431.46,212.58 L431.53,213.05 L431.60,213.56 L431.68,214.12 L431.75,214.72 L431.82,215.33 L431.89,215.95 L431.96,216.57 L432.04,217.18 L432.11,217.76 L432.18,218.31 L432.25,218.81 L432.32,219.26 L432.40,219.64 L432.47,219.95 L432.54,220.18 L432.61,220.34 L432.68,220.40 L432.76,220.39 L432.83,220.29 L432.90,220.10 L432.97,219.83 L433.04,219.49 L433.12,219.09 L433.19,218.62 L433.26,218.10 L433.33,217.53 L433.40,216.94 L433.48,216.32 L433.55,215.70 L433.62,215.08 L433.69,214.47 L433.76,213.90 L433.84,213.36 L433.91,212.87 L433.98,212.43 L434.05,212.06 L434.12,211.77 L434.20,211.55 L434.27,211.42 L434.34,211.37 L434.41,211.41 L434.48,211.53 L434.56,211.74 L434.63,212.03 L434.70,212.39 L434.77,212.82 L434.84,213.31 L434.92,213.85 L434.99,214.42 L435.06,215.02 L435.13,215.64 L435.20,216.27 L435.28,216.88 L435.35,217.48 L435.42,218.04 L435.49,218.56 L435.56,219.03 L435.64,219.43 L435.71,219.77 L435.78,220.03 L435.85,220.20 L435.92,220.29 L436.00,220.29 L436.07,220.21 L436.14,220.04 L436.21,219.79 L436.28,219.46 L436.36,219.06 L436.43,218.59 L436.50,218.07 L436.57,217.51 L436.64,216.92 L436.72,216.30 L436.79,215.68 L436.86,215.06 L436.93,214.46 L437.00,213.88 L437.08,213.35 L437.15,212.86 L437.22,212.44 L437.29,212.09 L437.36,211.81 L437.44,211.61 L437.51,211.50 L437.58,211.48 L437.65,211.54 L437.72,211.69 L437.80,211.93 L437.87,212.25 L437.94,212.64 L438.01,213.09 L438.08,213.60 L438.16,214.16 L438.23,214.75 L438.30,215.36 L438.37,215.98 L438.44,216.61 L438.52,217.21 L438.59,217.79 L438.66,218.32 L438.73,218.81 L438.80,219.24 L438.88,219.59 L438.95,219.87 L439.02,220.07 L439.09,220.18 L439.16,220.20 L439.24,220.14 L439.31,219.98 L439.38,219.74 L439.45,219.42 L439.52,219.02 L439.60,218.56 L439.67,218.05 L439.74,217.49 L439.81,216.90 L439.88,216.28 L439.96,215.66 L440.03,215.04 L440.10,214.44 L440.17,213.87 L440.24,213.34 L440.32,212.86 L440.39,212.45 L440.46,212.11 L440.53,211.85 L440.60,211.67 L440.68,211.58 L440.75,211.58 L440.82,211.67 L440.89,211.85 L440.96,212.12 L441.04,212.46 L441.11,212.88 L441.18,213.36 L441.25,213.89 L441.32,214.46 L441.40,215.06 L441.47,215.68 L441.54,216.31 L441.61,216.92 L441.68,217.51 L441.76,218.07 L441.83,218.57 L441.90,219.02 L441.97,219.41 L442.04,219.71 L442.12,219.94 L442.19,220.07 L442.26,220.12 L442.33,220.07 L442.40,219.93 L442.48,219.71 L442.55,219.40 L442.62,219.02 L442.69,218.57 L442.76,218.06 L442.84,217.50 L442.91,216.91 L442.98,216.29 L443.05,215.67 L443.12,215.05 L443.20,214.45 L443.27,213.88 L443.34,213.35 L443.41,212.88 L443.48,212.48 L443.56,212.15 L443.63,211.90 L443.70,211.73 L443.77,211.66 L443.84,211.68 L443.92,211.80 L443.99,212.00 L444.06,212.29 L444.13,212.65 L444.20,213.09 L444.28,213.59 L444.35,214.13 L444.42,214.72 L444.49,215.33 L444.56,215.95 L444.64,216.57 L444.71,217.18 L444.78,217.75 L444.85,218.29 L444.92,218.76 L445.00,219.18 L445.07,219.52 L445.14,219.78 L445.21,219.95 L445.28,220.02 L445.36,220.01 L445.43,219.90 L445.50,219.70 L445.57,219.42 L445.64,219.06 L445.72,218.62 L445.79,218.12 L445.86,217.58 L445.93,216.99 L446.00,216.38 L446.08,215.75 L446.15,215.13 L446.22,214.53 L446.29,213.96 L446.36,213.43 L446.44,212.96 L446.51,212.55 L446.58,212.22 L446.65,211.97 L446.72,211.81 L446.80,211.75 L446.87,211.77 L446.94,211.90 L447.01,212.11 L447.08,212.41 L447.16,212.79 L447.23,213.23 L447.30,213.74 L447.37,214.30 L447.44,214.89 L447.52,215.51 L447.59,216.13 L447.66,216.75 L447.73,217.35 L447.80,217.91 L447.88,218.42 L447.95,218.88 L448.02,219.26 L448.09,219.57 L448.16,219.79 L448.24,219.91 L448.31,219.95 L448.38,219.89 L448.45,219.73 L448.52,219.49 L448.60,219.16 L448.67,218.75 L448.74,218.28 L448.81,217.74 L448.88,217.17 L448.96,216.57 L449.03,215.94 L449.10,215.32 L449.17,214.71 L449.24,214.13 L449.32,213.59 L449.39,213.10 L449.46,212.68 L449.53,212.34 L449.60,212.08 L449.68,211.91 L449.75,211.83 L449.82,211.85 L449.89,211.96 L449.96,212.17 L450.04,212.46 L450.11,212.84 L450.18,213.29 L450.25,213.80 L450.32,214.36 L450.40,214.95 L450.47,215.57 L450.54,216.19 L450.61,216.81 L450.68,217.40 L450.76,217.96 L450.83,218.46 L450.90,218.90 L450.97,219.27 L451.04,219.56 L451.12,219.75 L451.19,219.86 L451.26,219.86 L451.33,219.77 L451.40,219.59 L451.48,219.31 L451.55,218.95 L451.62,218.52 L451.69,218.02 L451.76,217.47 L451.84,216.88 L451.91,216.27 L451.98,215.65 L452.05,215.03 L452.12,214.43 L452.20,213.87 L452.27,213.36 L452.34,212.91 L452.41,212.53 L452.48,212.24 L452.56,212.03 L452.63,211.92 L452.70,211.91 L452.77,211.99 L452.84,212.17 L452.92,212.44 L452.99,212.80 L453.06,213.23 L453.13,213.73 L453.20,214.28 L453.28,214.87 L453.35,215.48 L453.42,216.10 L453.49,216.72 L453.56,217.32 L453.64,217.88 L453.71,218.38 L453.78,218.83 L453.85,219.20 L453.92,219.49 L454.00,219.69 L454.07,219.79 L454.14,219.79 L454.21,219.69 L454.28,219.50 L454.36,219.22 L454.43,218.85 L454.50,218.41 L454.57,217.90 L454.64,217.34 L454.72,216.75 L454.79,216.13 L454.86,215.51 L454.93,214.89 L455.00,214.31 L455.08,213.76 L455.15,213.26 L455.22,212.83 L455.29,212.48 L455.36,212.22 L455.44,212.05 L455.51,211.97 L455.58,212.00 L455.65,212.12 L455.72,212.35 L455.80,212.66 L455.87,213.05 L455.94,213.52 L456.01,214.04 L456.08,214.61 L456.16,215.22 L456.23,215.84 L456.30,216.46 L456.37,217.07 L456.44,217.64 L456.52,218.17 L456.59,218.64 L456.66,219.04 L456.73,219.35 L456.80,219.58 L456.88,219.70 L456.95,219.73 L457.02,219.66 L457.09,219.49 L457.16,219.22 L457.24,218.87 L457.31,218.44 L457.38,217.94 L457.45,217.39 L457.52,216.80 L457.60,216.18 L457.67,215.56 L457.74,214.94 L457.81,214.35 L457.88,213.80 L457.96,213.31 L458.03,212.88 L458.10,212.53 L458.17,212.27 L458.24,212.10 L458.32,212.04 L458.39,212.07 L458.46,212.21 L458.53,212.44 L458.60,212.77 L458.68,213.18 L458.75,213.65 L458.82,214.19 L458.89,214.77 L458.96,215.38 L459.04,216.00 L459.11,216.62 L459.18,217.22 L459.25,217.78 L459.32,218.29 L459.40,218.74 L459.47,219.11 L459.54,219.39 L459.61,219.58 L459.68,219.66 L459.76,219.65 L459.83,219.53 L459.90,219.31 L459.97,219.01 L460.04,218.61 L460.12,218.15 L460.19,217.62 L460.26,217.04 L460.33,216.43 L460.40,215.81 L460.48,215.19 L460.55,214.59 L460.62,214.02 L460.69,213.51 L460.76,213.06 L460.84,212.68 L460.91,212.39 L460.98,212.20 L461.05,212.11 L461.12,212.12 L461.20,212.23 L461.27,212.45 L461.34,212.75 L461.41,213.15 L461.48,213.61 L461.56,214.14 L461.63,214.72 L461.70,215.33 L461.77,215.95 L461.84,216.57 L461.92,217.17 L461.99,217.73 L462.06,218.24 L462.13,218.69 L462.20,219.06 L462.28,219.34 L462.35,219.52 L462.42,219.60 L462.49,219.58 L462.56,219.45 L462.64,219.23 L462.71,218.91 L462.78,218.51 L462.85,218.03 L462.92,217.49 L463.00,216.91 L463.07,216.30 L463.14,215.67 L463.21,215.06 L463.28,214.46 L463.36,213.91 L463.43,213.41 L463.50,212.98 L463.57,212.63 L463.64,212.38 L463.72,212.22 L463.79,212.16 L463.86,212.21 L463.93,212.37 L464.00,212.62 L464.08,212.97 L464.15,213.39 L464.22,213.89 L464.29,214.44 L464.36,215.04 L464.44,215.65 L464.51,216.28 L464.58,216.89 L464.65,217.47 L464.72,218.01 L464.80,218.48 L464.87,218.88 L464.94,219.19 L465.01,219.41 L465.08,219.53 L465.16,219.54 L465.23,219.45 L465.30,219.25 L465.37,218.96 L465.44,218.57 L465.52,218.11 L465.59,217.59 L465.66,217.01 L465.73,216.41 L465.80,215.78 L465.88,215.16 L465.95,214.57 L466.02,214.00 L466.09,213.50 L466.16,213.06 L466.24,212.71 L466.31,212.44 L466.38,212.28 L466.45,212.22 L466.52,212.27 L466.60,212.42 L466.67,212.68 L466.74,213.02 L466.81,213.45 L466.88,213.95 L466.96,214.51 L467.03,215.11 L467.10,215.73 L467.17,216.35 L467.24,216.96 L467.32,217.53 L467.39,218.06 L467.46,218.52 L467.53,218.91 L467.60,219.20 L467.68,219.39 L467.75,219.49 L467.82,219.47 L467.89,219.35 L467.96,219.12 L468.04,218.80 L468.11,218.39 L468.18,217.91 L468.25,217.36 L468.32,216.77 L468.40,216.16 L468.47,215.53 L468.54,214.92 L468.61,214.34 L468.68,213.80 L468.76,213.32 L468.83,212.92 L468.90,212.61 L468.97,212.40 L469.04,212.29 L469.12,212.29 L469.19,212.40 L469.26,212.61 L469.33,212.92 L469.40,213.32 L469.48,213.79 L469.55,214.33 L469.62,214.91 L469.69,215.53 L469.76,216.15 L469.84,216.76 L469.91,217.35 L469.98,217.89 L470.05,218.37 L470.12,218.78 L470.20,219.09 L470.27,219.31 L470.34,219.42 L470.41,219.43 L470.48,219.32 L470.56,219.11 L470.63,218.80 L470.70,218.40 L470.77,217.93 L470.84,217.39 L470.92,216.80 L470.99,216.19 L471.06,215.57 L471.13,214.95 L471.20,214.37 L471.28,213.83 L471.35,213.35 L471.42,212.96 L471.49,212.65 L471.56,212.44 L471.64,212.34 L471.71,212.35 L471.78,212.47 L471.85,212.69 L471.92,213.01 L472.00,213.42 L472.07,213.91 L472.14,214.45 L472.21,215.04 L472.28,215.66 L472.36,216.28 L472.43,216.89 L472.50,217.47 L472.57,218.00 L472.64,218.46 L472.72,218.84 L472.79,219.13 L472.86,219.31 L472.93,219.39 L473.00,219.35 L473.08,219.21 L473.15,218.96 L473.22,218.61 L473.29,218.18 L473.36,217.68 L473.44,217.12 L473.51,216.51 L473.58,215.89 L473.65,215.27 L473.72,214.67 L473.80,214.11 L473.87,213.60 L473.94,213.17 L474.01,212.82 L474.08,212.57 L474.16,212.42 L474.23,212.38 L474.30,212.46 L474.37,212.64 L474.44,212.93 L474.52,213.31 L474.59,213.77 L474.66,214.30 L474.73,214.88 L474.80,215.49 L474.88,216.12 L474.95,216.73 L475.02,217.32 L475.09,217.86 L475.16,218.34 L475.24,218.73 L475.31,219.04 L475.38,219.24 L475.45,219.33 L475.52,219.31 L475.60,219.18 L475.67,218.95 L475.74,218.61 L475.81,218.19 L475.88,217.69 L475.96,217.13 L476.03,216.53 L476.10,215.91 L476.17,215.29 L476.24,214.69 L476.32,214.12 L476.39,213.62 L476.46,213.19 L476.53,212.84 L476.60,212.60 L476.68,212.46 L476.75,212.43 L476.82,212.52 L476.89,212.72 L476.96,213.02 L477.04,213.41 L477.11,213.89 L477.18,214.43 L477.25,215.02 L477.32,215.63 L477.40,216.25 L477.47,216.86 L477.54,217.44 L477.61,217.97 L477.68,218.42 L477.76,218.79 L477.83,219.07 L477.90,219.24 L477.97,219.29 L478.04,219.23 L478.12,219.07 L478.19,218.79 L478.26,218.42 L478.33,217.96 L478.40,217.43 L478.48,216.86 L478.55,216.25 L478.62,215.62 L478.69,215.01 L478.76,214.42 L478.84,213.89 L478.91,213.42 L478.98,213.03 L479.05,212.74 L479.12,212.55 L479.20,212.48 L479.27,212.52 L479.34,212.67 L479.41,212.93 L479.48,213.29 L479.56,213.74 L479.63,214.26 L479.70,214.83 L479.77,215.44 L479.84,216.06 L479.92,216.68 L479.99,217.27 L480.06,217.81 L480.13,218.28 L480.20,218.68 L480.28,218.97 L480.35,219.17 L480.42,219.24 L480.49,219.21 L480.56,219.06 L480.64,218.80 L480.71,218.44 L480.78,218.00 L480.85,217.48 L480.92,216.90 L481.00,216.29 L481.07,215.67 L481.14,215.06 L481.21,214.47 L481.28,213.93 L481.36,213.46 L481.43,213.07 L481.50,212.78 L481.57,212.59 L481.64,212.52 L481.72,212.57 L481.79,212.73 L481.86,212.99 L481.93,213.36 L482.00,213.82 L482.08,214.34 L482.15,214.92 L482.22,215.53 L482.29,216.15 L482.36,216.77 L482.44,217.35 L482.51,217.88 L482.58,218.34 L482.65,218.71 L482.72,218.99 L482.80,219.15 L482.87,219.20 L482.94,219.14 L483.01,218.96 L483.08,218.67 L483.16,218.28 L483.23,217.81 L483.30,217.27 L483.37,216.68 L483.44,216.07 L483.52,215.44 L483.59,214.84 L483.66,214.27 L483.73,213.75 L483.80,213.31 L483.88,212.97 L483.95,212.72 L484.02,212.59 L484.09,212.57 L484.16,212.67 L484.24,212.89 L484.31,213.21 L484.38,213.62 L484.45,214.12 L484.52,214.67 L484.60,215.27 L484.67,215.89 L484.74,216.51 L484.81,217.11 L484.88,217.66 L484.96,218.15 L485.03,218.56 L485.10,218.87 L485.17,219.07 L485.24,219.16 L485.32,219.13 L485.39,218.98 L485.46,218.72 L485.53,218.36 L485.60,217.91 L485.68,217.39 L485.75,216.81 L485.82,216.20 L485.89,215.57 L485.96,214.96 L486.04,214.38 L486.11,213.86 L486.18,213.41 L486.25,213.04 L486.32,212.79 L486.40,212.64 L486.47,212.61 L486.54,212.70 L486.61,212.91 L486.68,213.22 L486.76,213.63 L486.83,214.12 L486.90,214.68 L486.97,215.27 L487.04,215.90 L487.12,216.52 L487.19,217.11 L487.26,217.66 L487.33,218.15 L487.40,218.55 L487.48,218.85 L487.55,219.04 L487.62,219.12 L487.69,219.08 L487.76,218.92 L487.84,218.64 L487.91,218.27 L487.98,217.80 L488.05,217.27 L488.12,216.68 L488.20,216.07 L488.27,215.45 L488.34,214.84 L488.41,214.27 L488.48,213.76 L488.56,213.33 L488.63,213.00 L488.70,212.77 L488.77,212.66 L488.84,212.67 L488.92,212.79 L488.99,213.03 L489.06,213.38 L489.13,213.82 L489.20,214.34 L489.28,214.92 L489.35,215.53 L489.42,216.15 L489.49,216.76 L489.56,217.34 L489.64,217.86 L489.71,218.31 L489.78,218.67 L489.85,218.92 L489.92,219.06 L490.00,219.07 L490.07,218.97 L490.14,218.75 L490.21,218.42 L490.28,217.99 L490.36,217.49 L490.43,216.92 L490.50,216.31 L490.57,215.69 L490.64,215.08 L490.72,214.49 L490.79,213.96 L490.86,213.50 L490.93,213.13 L491.00,212.87 L491.08,212.72 L491.15,212.69 L491.22,212.78 L491.29,212.99 L491.36,213.31 L491.44,213.73 L491.51,214.23 L491.58,214.80 L491.65,215.40 L491.72,216.02 L491.80,216.64 L491.87,217.23 L491.94,217.76 L492.01,218.22 L492.08,218.59 L492.16,218.86 L492.23,219.01 L492.30,219.04 L492.37,218.95 L492.44,218.74 L492.52,218.42 L492.59,218.00 L492.66,217.49 L492.73,216.93 L492.80,216.32 L492.88,215.70 L492.95,215.09 L493.02,214.50 L493.09,213.97 L493.16,213.51 L493.24,213.15 L493.31,212.89 L493.38,212.75 L493.45,212.73 L493.52,212.83 L493.60,213.05 L493.67,213.39 L493.74,213.82 L493.81,214.33 L493.88,214.90 L493.96,215.51 L494.03,216.13 L494.10,216.74 L494.17,217.32 L494.24,217.84 L494.32,218.28 L494.39,218.63 L494.46,218.87 L494.53,218.99 L494.60,218.99 L494.68,218.87 L494.75,218.62 L494.82,218.27 L494.89,217.82 L494.96,217.30 L495.04,216.72 L495.11,216.10 L495.18,215.48 L495.25,214.87 L495.32,214.31 L495.40,213.80 L495.47,213.38 L495.54,213.06 L495.61,212.85 L495.68,212.76 L495.76,212.80 L495.83,212.95 L495.90,213.23 L495.97,213.61 L496.04,214.08 L496.12,214.63 L496.19,215.22 L496.26,215.84 L496.33,216.46 L496.40,217.06 L496.48,217.60 L496.55,218.08 L496.62,218.47 L496.69,218.76 L496.76,218.93 L496.84,218.97 L496.91,218.89 L496.98,218.69 L497.05,218.37 L497.12,217.96 L497.20,217.46 L497.27,216.89 L497.34,216.28 L497.41,215.66 L497.48,215.05 L497.56,214.47 L497.63,213.94 L497.70,213.50 L497.77,213.15 L497.84,212.92 L497.92,212.80 L497.99,212.81 L498.06,212.95 L498.13,213.20 L498.20,213.57 L498.28,214.03 L498.35,214.56 L498.42,215.15 L498.49,215.77 L498.56,216.39 L498.64,216.99 L498.71,217.54 L498.78,218.03 L498.85,218.43 L498.92,218.72 L499.00,218.89 L499.07,218.94 L499.14,218.86 L499.21,218.66 L499.28,218.35 L499.36,217.93 L499.43,217.42 L499.50,216.86 L499.57,216.25 L499.64,215.63 L499.72,215.01 L499.79,214.44 L499.86,213.92 L499.93,213.49 L500.00,213.15 L500.08,212.93 L500.15,212.83 L500.22,212.86 L500.29,213.01 L500.36,213.29 L500.44,213.67 L500.51,214.14 L500.58,214.69 L500.65,215.29 L500.72,215.91 L500.80,216.53 L500.87,217.12 L500.94,217.66 L501.01,218.12 L501.08,218.49 L501.16,218.75 L501.23,218.89 L501.30,218.90 L501.37,218.78 L501.44,218.54 L501.52,218.19 L501.59,217.74 L501.66,217.21 L501.73,216.62 L501.80,216.01 L501.88,215.38 L501.95,214.78 L502.02,214.23 L502.09,213.75 L502.16,213.35 L502.24,213.07 L502.31,212.90 L502.38,212.86 L502.45,212.95 L502.52,213.17 L502.60,213.50 L502.67,213.93 L502.74,214.44 L502.81,215.02 L502.88,215.63 L502.96,216.25 L503.03,216.86 L503.10,217.42 L503.17,217.92 L503.24,218.33 L503.32,218.63 L503.39,218.82 L503.46,218.88 L503.53,218.80 L503.60,218.61 L503.68,218.29 L503.75,217.87 L503.82,217.36 L503.89,216.79 L503.96,216.18 L504.04,215.56 L504.11,214.95 L504.18,214.38 L504.25,213.88 L504.32,213.46 L504.40,213.15 L504.47,212.96 L504.54,212.89 L504.61,212.95 L504.68,213.14 L504.76,213.45 L504.83,213.87 L504.90,214.37 L504.97,214.94 L505.04,215.55 L505.12,216.17 L505.19,216.78 L505.26,217.35 L505.33,217.86 L505.40,218.28 L505.48,218.59 L505.55,218.78 L505.62,218.84 L505.69,218.78 L505.76,218.59 L505.84,218.27 L505.91,217.85 L505.98,217.35 L506.05,216.78 L506.12,216.17 L506.20,215.55 L506.27,214.94 L506.34,214.37 L506.41,213.87 L506.48,213.46 L506.56,213.16 L506.63,212.98 L506.70,212.92 L506.77,213.00 L506.84,213.21 L506.92,213.53 L506.99,213.96 L507.06,214.47 L507.13,215.05 L507.20,215.66 L507.28,216.29 L507.35,216.89 L507.42,217.45 L507.49,217.94 L507.56,218.33 L507.64,218.62 L507.71,218.78 L507.78,218.81 L507.85,218.71 L507.92,218.48 L508.00,218.14 L508.07,217.69 L508.14,217.17 L508.21,216.58 L508.28,215.96 L508.36,215.34 L508.43,214.74 L508.50,214.20 L508.57,213.73 L508.64,213.36 L508.72,213.10 L508.79,212.97 L508.86,212.97 L508.93,213.10 L509.00,213.36 L509.08,213.73 L509.15,214.20 L509.22,214.74 L509.29,215.34 L509.36,215.96 L509.44,216.58 L509.51,217.16 L509.58,217.69 L509.65,218.13 L509.72,218.47 L509.80,218.69 L509.87,218.78 L509.94,218.74 L510.01,218.57 L510.08,218.27 L510.16,217.87 L510.23,217.37 L510.30,216.80 L510.37,216.20 L510.44,215.57 L510.52,214.96 L510.59,214.40 L510.66,213.90 L510.73,213.49 L510.80,213.20 L510.88,213.02 L510.95,212.98 L511.02,213.08 L511.09,213.30 L511.16,213.64 L511.24,214.09 L511.31,214.61 L511.38,215.20 L511.45,215.82 L511.52,216.44 L511.60,217.03 L511.67,217.57 L511.74,218.03 L511.81,218.39 L511.88,218.64 L511.96,218.75 L512.03,218.73 L512.10,218.58 L512.17,218.30 L512.24,217.90 L512.32,217.42 L512.39,216.86 L512.46,216.25 L512.53,215.63 L512.60,215.02 L512.68,214.45 L512.75,213.94 L512.82,213.53 L512.89,213.23 L512.96,213.05 L513.04,213.01 L513.11,213.10 L513.18,213.32 L513.25,213.67 L513.32,214.11 L513.40,214.64 L513.47,215.23 L513.54,215.85 L513.61,216.47 L513.68,217.06 L513.76,217.60 L513.83,218.05 L513.90,218.40 L513.97,218.63 L514.04,218.73 L514.12,218.69 L514.19,218.52 L514.26,218.22 L514.33,217.81 L514.40,217.31 L514.48,216.74 L514.55,216.13 L514.62,215.51 L514.69,214.90 L514.76,214.35 L514.84,213.86 L514.91,213.47 L514.98,213.20 L515.05,213.06 L515.12,213.05 L515.20,213.17 L515.27,213.43 L515.34,213.81 L515.41,214.28 L515.48,214.83 L515.56,215.43 L515.63,216.05 L515.70,216.67 L515.77,217.24 L515.84,217.75 L515.92,218.17 L515.99,218.48 L516.06,218.66 L516.13,218.70 L516.20,218.61 L516.28,218.39 L516.35,218.04 L516.42,217.59 L516.49,217.06 L516.56,216.47 L516.64,215.85 L516.71,215.23 L516.78,214.64 L516.85,214.12 L516.92,213.68 L517.00,213.34 L517.07,213.14 L517.14,213.06 L517.21,213.12 L517.28,213.32 L517.36,213.65 L517.43,214.08 L517.50,214.60 L517.57,215.18 L517.64,215.80 L517.72,216.42 L517.79,217.01 L517.86,217.55 L517.93,218.01 L518.00,218.36 L518.08,218.58 L518.15,218.68 L518.22,218.63 L518.29,218.45 L518.36,218.14 L518.44,217.72 L518.51,217.21 L518.58,216.63 L518.65,216.02 L518.72,215.40 L518.80,214.80 L518.87,214.26 L518.94,213.79 L519.01,213.43 L519.08,213.20 L519.16,213.09 L519.23,213.13 L519.30,213.30 L519.37,213.60 L519.44,214.01 L519.52,214.52 L519.59,215.09 L519.66,215.71 L519.73,216.33 L519.80,216.93 L519.88,217.47 L519.95,217.94 L520.02,218.30 L520.09,218.54 L520.16,218.65 L520.24,218.62 L520.31,218.44 L520.38,218.14 L520.45,217.73 L520.52,217.22 L520.60,216.65 L520.67,216.03 L520.74,215.41 L520.81,214.81 L520.88,214.27 L520.96,213.81 L521.03,213.45 L521.10,213.21 L521.17,213.12 L521.24,213.16 L521.32,213.33 L521.39,213.64 L521.46,214.06 L521.53,214.58 L521.60,215.16 L521.68,215.77 L521.75,216.39 L521.82,216.99 L521.89,217.53 L521.96,217.98 L522.04,218.32 L522.11,218.54 L522.18,218.63 L522.25,218.57 L522.32,218.38 L522.40,218.05 L522.47,217.62 L522.54,217.10 L522.61,216.51 L522.68,215.89 L522.76,215.27 L522.83,214.68 L522.90,214.16 L522.97,213.72 L523.04,213.39 L523.12,213.20 L523.19,213.14 L523.26,213.22 L523.33,213.44 L523.40,213.78 L523.48,214.24 L523.55,214.77 L523.62,215.37 L523.69,215.99 L523.76,216.60 L523.84,217.18 L523.91,217.69 L523.98,218.11 L524.05,218.40 L524.12,218.57 L524.20,218.60 L524.27,218.48 L524.34,218.23 L524.41,217.86 L524.48,217.38 L524.56,216.83 L524.63,216.22 L524.70,215.60 L524.77,214.99 L524.84,214.43 L524.92,213.94 L524.99,213.56 L525.06,213.30 L525.13,213.17 L525.20,213.19 L525.28,213.34 L525.35,213.63 L525.42,214.04 L525.49,214.54 L525.56,215.12 L525.64,215.73 L525.71,216.35 L525.78,216.95 L525.85,217.49 L525.92,217.94 L526.00,218.29 L526.07,218.50 L526.14,218.58 L526.21,218.52 L526.28,218.31 L526.36,217.98 L526.43,217.53 L526.50,217.00 L526.57,216.40 L526.64,215.78 L526.72,215.17 L526.79,214.59 L526.86,214.08 L526.93,213.67 L527.00,213.37 L527.08,213.21 L527.15,213.19 L527.22,213.32 L527.29,213.58 L527.36,213.96 L527.44,214.45 L527.51,215.01 L527.58,215.62 L527.65,216.24 L527.72,216.85 L527.80,217.40 L527.87,217.87 L527.94,218.23 L528.01,218.46 L528.08,218.56 L528.16,218.51 L528.23,218.32 L528.30,218.00 L528.37,217.56 L528.44,217.03 L528.52,216.44 L528.59,215.82 L528.66,215.21 L528.73,214.63 L528.80,214.11 L528.88,213.70 L528.95,213.40 L529.02,213.24 L529.09,213.22 L529.16,213.34 L529.24,213.60 L529.31,213.99 L529.38,214.48 L529.45,215.04 L529.52,215.65 L529.60,216.27 L529.67,216.87 L529.74,217.42 L529.81,217.88 L529.88,218.23 L529.96,218.46 L530.03,218.54 L530.10,218.47 L530.17,218.27 L530.24,217.93 L530.32,217.48 L530.39,216.94 L530.46,216.35 L530.53,215.72 L530.60,215.11 L530.68,214.54 L530.75,214.04 L530.82,213.65 L530.89,213.38 L530.96,213.24 L531.04,213.25 L531.11,213.41 L531.18,213.70 L531.25,214.11 L531.32,214.62 L531.40,215.20 L531.47,215.82 L531.54,216.44 L531.61,217.03 L531.68,217.55 L531.76,217.98 L531.83,218.30 L531.90,218.48 L531.97,218.51 L532.04,218.40 L532.12,218.15 L532.19,217.77 L532.26,217.28 L532.33,216.72 L532.40,216.11 L532.48,215.49 L532.55,214.89 L532.62,214.34 L532.69,213.89 L532.76,213.54 L532.84,213.32 L532.91,213.25 L532.98,213.32 L533.05,213.54 L533.12,213.89 L533.20,214.35 L533.27,214.90 L533.34,215.50 L533.41,216.12 L533.48,216.73 L533.56,217.29 L533.63,217.77 L533.70,218.14 L533.77,218.39 L533.84,218.49 L533.92,218.45 L533.99,218.26 L534.06,217.93 L534.13,217.49 L534.20,216.96 L534.28,216.36 L534.35,215.74 L534.42,215.13 L534.49,214.56 L534.56,214.06 L534.64,213.67 L534.71,213.40 L534.78,213.28 L534.85,213.30 L534.92,213.47 L535.00,213.78 L535.07,214.20 L535.14,214.73 L535.21,215.31 L535.28,215.93 L535.36,216.55 L535.43,217.13 L535.50,217.63 L535.50,217.63" fill="none" stroke="#0000ff" stroke-width="1.6" stroke-linejoin="round"/>
<line x1="55.3" y1="137.10" x2="535.5" y2="137.10" stroke="#000" stroke-width="1.3" stroke-dasharray="4.8 3.905"/>
<line x1="55.3" y1="214.10" x2="535.5" y2="214.10" stroke="#000" stroke-width="1.3" stroke-dasharray="4.8 3.905"/>
<rect x="55.5" y="27.5" width="480.00" height="296.50" fill="none" stroke="#4a4a4a" stroke-width="1"/>
<g class="tk"><line x1="55.50" y1="324.0" x2="55.50" y2="319.7"/><line x1="55.50" y1="27.5" x2="55.50" y2="31.8"/><line x1="79.50" y1="324.0" x2="79.50" y2="321.5"/><line x1="79.50" y1="27.5" x2="79.50" y2="30.0"/><line x1="103.50" y1="324.0" x2="103.50" y2="321.5"/><line x1="103.50" y1="27.5" x2="103.50" y2="30.0"/><line x1="127.50" y1="324.0" x2="127.50" y2="321.5"/><line x1="127.50" y1="27.5" x2="127.50" y2="30.0"/><line x1="151.50" y1="324.0" x2="151.50" y2="321.5"/><line x1="151.50" y1="27.5" x2="151.50" y2="30.0"/><line x1="175.50" y1="324.0" x2="175.50" y2="319.7"/><line x1="175.50" y1="27.5" x2="175.50" y2="31.8"/><line x1="199.50" y1="324.0" x2="199.50" y2="321.5"/><line x1="199.50" y1="27.5" x2="199.50" y2="30.0"/><line x1="223.50" y1="324.0" x2="223.50" y2="321.5"/><line x1="223.50" y1="27.5" x2="223.50" y2="30.0"/><line x1="247.50" y1="324.0" x2="247.50" y2="321.5"/><line x1="247.50" y1="27.5" x2="247.50" y2="30.0"/><line x1="271.50" y1="324.0" x2="271.50" y2="321.5"/><line x1="271.50" y1="27.5" x2="271.50" y2="30.0"/><line x1="295.50" y1="324.0" x2="295.50" y2="319.7"/><line x1="295.50" y1="27.5" x2="295.50" y2="31.8"/><line x1="319.50" y1="324.0" x2="319.50" y2="321.5"/><line x1="319.50" y1="27.5" x2="319.50" y2="30.0"/><line x1="343.50" y1="324.0" x2="343.50" y2="321.5"/><line x1="343.50" y1="27.5" x2="343.50" y2="30.0"/><line x1="367.50" y1="324.0" x2="367.50" y2="321.5"/><line x1="367.50" y1="27.5" x2="367.50" y2="30.0"/><line x1="391.50" y1="324.0" x2="391.50" y2="321.5"/><line x1="391.50" y1="27.5" x2="391.50" y2="30.0"/><line x1="415.50" y1="324.0" x2="415.50" y2="319.7"/><line x1="415.50" y1="27.5" x2="415.50" y2="31.8"/><line x1="439.50" y1="324.0" x2="439.50" y2="321.5"/><line x1="439.50" y1="27.5" x2="439.50" y2="30.0"/><line x1="463.50" y1="324.0" x2="463.50" y2="321.5"/><line x1="463.50" y1="27.5" x2="463.50" y2="30.0"/><line x1="487.50" y1="324.0" x2="487.50" y2="321.5"/><line x1="487.50" y1="27.5" x2="487.50" y2="30.0"/><line x1="511.50" y1="324.0" x2="511.50" y2="321.5"/><line x1="511.50" y1="27.5" x2="511.50" y2="30.0"/><line x1="535.50" y1="324.0" x2="535.50" y2="319.7"/><line x1="535.50" y1="27.5" x2="535.50" y2="31.8"/><line x1="55.5" y1="318.50" x2="59.8" y2="318.50"/><line x1="535.5" y1="318.50" x2="531.2" y2="318.50"/><line x1="55.5" y1="304.50" x2="58.0" y2="304.50"/><line x1="535.5" y1="304.50" x2="533.0" y2="304.50"/><line x1="55.5" y1="289.50" x2="58.0" y2="289.50"/><line x1="535.5" y1="289.50" x2="533.0" y2="289.50"/><line x1="55.5" y1="275.50" x2="58.0" y2="275.50"/><line x1="535.5" y1="275.50" x2="533.0" y2="275.50"/><line x1="55.5" y1="261.50" x2="59.8" y2="261.50"/><line x1="535.5" y1="261.50" x2="531.2" y2="261.50"/><line x1="55.5" y1="247.50" x2="58.0" y2="247.50"/><line x1="535.5" y1="247.50" x2="533.0" y2="247.50"/><line x1="55.5" y1="232.50" x2="58.0" y2="232.50"/><line x1="535.5" y1="232.50" x2="533.0" y2="232.50"/><line x1="55.5" y1="218.50" x2="58.0" y2="218.50"/><line x1="535.5" y1="218.50" x2="533.0" y2="218.50"/><line x1="55.5" y1="204.50" x2="59.8" y2="204.50"/><line x1="535.5" y1="204.50" x2="531.2" y2="204.50"/><line x1="55.5" y1="190.50" x2="58.0" y2="190.50"/><line x1="535.5" y1="190.50" x2="533.0" y2="190.50"/><line x1="55.5" y1="175.50" x2="58.0" y2="175.50"/><line x1="535.5" y1="175.50" x2="533.0" y2="175.50"/><line x1="55.5" y1="161.50" x2="58.0" y2="161.50"/><line x1="535.5" y1="161.50" x2="533.0" y2="161.50"/><line x1="55.5" y1="147.50" x2="59.8" y2="147.50"/><line x1="535.5" y1="147.50" x2="531.2" y2="147.50"/><line x1="55.5" y1="132.50" x2="58.0" y2="132.50"/><line x1="535.5" y1="132.50" x2="533.0" y2="132.50"/><line x1="55.5" y1="118.50" x2="58.0" y2="118.50"/><line x1="535.5" y1="118.50" x2="533.0" y2="118.50"/><line x1="55.5" y1="104.50" x2="58.0" y2="104.50"/><line x1="535.5" y1="104.50" x2="533.0" y2="104.50"/><line x1="55.5" y1="90.50" x2="59.8" y2="90.50"/><line x1="535.5" y1="90.50" x2="531.2" y2="90.50"/><line x1="55.5" y1="75.50" x2="58.0" y2="75.50"/><line x1="535.5" y1="75.50" x2="533.0" y2="75.50"/><line x1="55.5" y1="61.50" x2="58.0" y2="61.50"/><line x1="535.5" y1="61.50" x2="533.0" y2="61.50"/><line x1="55.5" y1="47.50" x2="58.0" y2="47.50"/><line x1="535.5" y1="47.50" x2="533.0" y2="47.50"/><line x1="55.5" y1="33.50" x2="59.8" y2="33.50"/><line x1="535.5" y1="33.50" x2="531.2" y2="33.50"/></g>
<g class="lab"><text x="42.60" y="342.9">−</text><text x="52.60" y="342.9">20</text><text x="162.60" y="342.9">−</text><text x="172.60" y="342.9">10</text><text x="295.50" y="342.9" text-anchor="middle">0</text><text x="415.50" y="342.9" text-anchor="middle">10</text><text x="535.50" y="342.9" text-anchor="middle">20</text><text x="52.0" y="323.80" text-anchor="end">0.0</text><text x="52.0" y="266.76" text-anchor="end">0.2</text><text x="52.0" y="209.72" text-anchor="end">0.4</text><text x="52.0" y="152.68" text-anchor="end">0.6</text><text x="52.0" y="95.64" text-anchor="end">0.8</text><text x="52.0" y="38.60" text-anchor="end">1.0</text></g>
<text transform="translate(221.16,16.30) scale(0.977,1)" font-size="18.50" fill="#222">Resonant</text><text transform="translate(295.23,16.30) scale(0.993,1)" font-size="18.50" fill="#222">Transition</text>
<line x1="412.2" y1="53.1" x2="433.5" y2="53.1" stroke="#ff0000" stroke-width="1.4"/>
<line x1="412.2" y1="89.2" x2="433.5" y2="89.2" stroke="#0000ff" stroke-width="1.4"/>
<g id="legend"><line x1="444.50" y1="44.50" x2="444.50" y2="63.00" stroke="#111" stroke-width="1.0"/><text transform="translate(449.16,58.80) scale(1.173,1)" font-size="19.70" font-style="italic" font-weight="bold" fill="#111">A</text><text transform="translate(462.14,61.60) scale(1.323,1)" font-size="12.37" font-style="italic" fill="#111">T</text><line x1="475.20" y1="44.50" x2="475.20" y2="63.00" stroke="#111" stroke-width="1.0"/><text transform="translate(477.77,50.80) scale(1.200,1)" font-size="11.67" fill="#111">2</text><line x1="444.50" y1="80.70" x2="444.50" y2="99.20" stroke="#111" stroke-width="1.0"/><text transform="translate(449.16,95.00) scale(1.173,1)" font-size="19.70" font-style="italic" font-weight="bold" fill="#111">A</text><text transform="translate(462.81,99.50) scale(1.250,1)" font-size="12.21" font-style="italic" fill="#111">T</text><text transform="translate(462.64,97.09) scale(0.790,1)" font-size="24.26" fill="#111">′</text><line x1="475.20" y1="80.70" x2="475.20" y2="99.20" stroke="#111" stroke-width="1.0"/><text transform="translate(477.77,87.00) scale(1.200,1)" font-size="11.67" fill="#111">2</text></g>
<g id="annot"><text transform="translate(100.47,129.40) scale(1.123,1)" font-size="13.28" font-style="italic" fill="#111">P</text><text transform="translate(107.52,130.85) scale(1.650,1)" font-size="8.59" font-style="italic" fill="#111">γ</text><line x1="113.80" y1="130.10" x2="122.10" y2="130.10" stroke="#000" stroke-width="0.8"/><path d="M119.90,128.20 Q120.90,129.80 122.50,130.10 Q120.90,130.40 119.90,132.00" fill="none" stroke="#000" stroke-width="0.8"/><text transform="translate(122.12,130.85) scale(1.650,1)" font-size="8.59" font-style="italic" fill="#111">γ</text><line x1="131.50" y1="124.10" x2="140.90" y2="124.10" stroke="#000" stroke-width="0.85"/><line x1="131.50" y1="127.00" x2="140.90" y2="127.00" stroke="#000" stroke-width="0.85"/><text transform="translate(144.54,129.40) scale(1.079,1)" font-size="12.90" fill="#111">exp</text><text transform="translate(165.32,129.41) scale(0.714,1)" font-size="14.84" fill="#111">(</text><line x1="169.80" y1="126.50" x2="179.60" y2="126.50" stroke="#000" stroke-width="0.85"/><text transform="translate(180.43,129.40) scale(1.044,1)" font-size="12.90" font-style="italic" fill="#111">π</text><text transform="translate(187.74,129.40) scale(1.015,1)" font-size="12.90" font-style="italic" fill="#111">η</text><path d="M189.60,122.42 C190.23,121.16 191.17,121.37 191.70,122.00 S193.17,122.84 193.80,121.58" fill="none" stroke="#111" stroke-width="0.7"/><text transform="translate(193.82,124.40) scale(1.223,1)" font-size="8.79" fill="#111">2</text><text transform="translate(199.77,129.41) scale(0.752,1)" font-size="14.84" fill="#111">)</text><text transform="translate(86.97,206.80) scale(1.110,1)" font-size="13.28" font-style="italic" fill="#111">P</text><text transform="translate(94.02,208.25) scale(1.650,1)" font-size="8.59" font-style="italic" fill="#111">γ</text><line x1="100.30" y1="207.50" x2="108.40" y2="207.50" stroke="#000" stroke-width="0.8"/><path d="M106.20,205.60 Q107.20,207.20 108.80,207.50 Q107.20,207.80 106.20,209.40" fill="none" stroke="#000" stroke-width="0.8"/><text transform="translate(109.82,209.20) scale(1.070,1)" font-size="8.79" font-style="italic" fill="#111">A</text><text transform="translate(115.35,212.63) scale(0.979,1)" font-size="15.32" fill="#111">′</text><line x1="122.50" y1="201.50" x2="131.70" y2="201.50" stroke="#000" stroke-width="0.85"/><line x1="122.50" y1="204.40" x2="131.70" y2="204.40" stroke="#000" stroke-width="0.85"/><text transform="translate(135.59,206.80) scale(0.919,1)" font-size="12.88" fill="#111">1</text><line x1="145.90" y1="203.90" x2="154.90" y2="203.90" stroke="#000" stroke-width="0.85"/><text transform="translate(157.74,206.80) scale(1.079,1)" font-size="12.90" fill="#111">exp</text><text transform="translate(178.52,206.81) scale(0.714,1)" font-size="14.84" fill="#111">(</text><line x1="183.00" y1="203.90" x2="192.80" y2="203.90" stroke="#000" stroke-width="0.85"/><text transform="translate(193.63,206.80) scale(1.044,1)" font-size="12.90" font-style="italic" fill="#111">π</text><text transform="translate(200.94,206.80) scale(1.015,1)" font-size="12.90" font-style="italic" fill="#111">η</text><path d="M202.80,199.82 C203.43,198.56 204.38,198.77 204.90,199.40 S206.37,200.24 207.00,198.98" fill="none" stroke="#111" stroke-width="0.7"/><text transform="translate(207.02,201.80) scale(1.223,1)" font-size="8.79" fill="#111">2</text><text transform="translate(212.97,206.81) scale(0.752,1)" font-size="14.84" fill="#111">)</text></g>
<g id="vtext" transform="translate(288.7,131.4) rotate(-90)"><text transform="translate(0.12,0.00) scale(0.824,1)" font-size="14.05" font-style="italic" fill="#111">M</text><text transform="translate(12.35,-5.70) scale(1.200,1)" font-size="8.33" fill="#111">2</text><text transform="translate(11.44,3.20) scale(1.036,1)" font-size="8.60" fill="#111">eff</text><line x1="26.20" y1="-4.50" x2="34.20" y2="-4.50" stroke="#000" stroke-width="0.8"/><line x1="26.20" y1="-1.80" x2="34.20" y2="-1.80" stroke="#000" stroke-width="0.8"/><text transform="translate(40.12,0.00) scale(0.832,1)" font-size="14.05" font-style="italic" fill="#111">M</text><text transform="translate(50.97,1.19) scale(1.031,1)" font-size="16.17" fill="#111">′</text><text transform="translate(54.45,-5.70) scale(1.200,1)" font-size="8.33" fill="#111">2</text><text transform="translate(51.47,3.20) scale(0.948,1)" font-size="8.60" fill="#111">eff</text></g>
<g transform="translate(17.2,223.2) rotate(-90)">
<text id="ylab" x="0" y="0" font-size="18.4" letter-spacing="0.17" fill="#111">|Amplitude|<tspan font-size="13.2" dy="-7.9" dx="0.3">2</tspan></text>
</g>
<text transform="translate(291.83,368.80) scale(1.088,1)" font-size="19.83" font-style="italic" fill="#111">t</text>
<path d="M293.90,355.60 C294.81,353.80 296.19,354.10 296.95,355.00 S299.08,356.20 300.00,354.40" fill="none" stroke="#111" stroke-width="1.0"/>
</svg>
</body></html>
